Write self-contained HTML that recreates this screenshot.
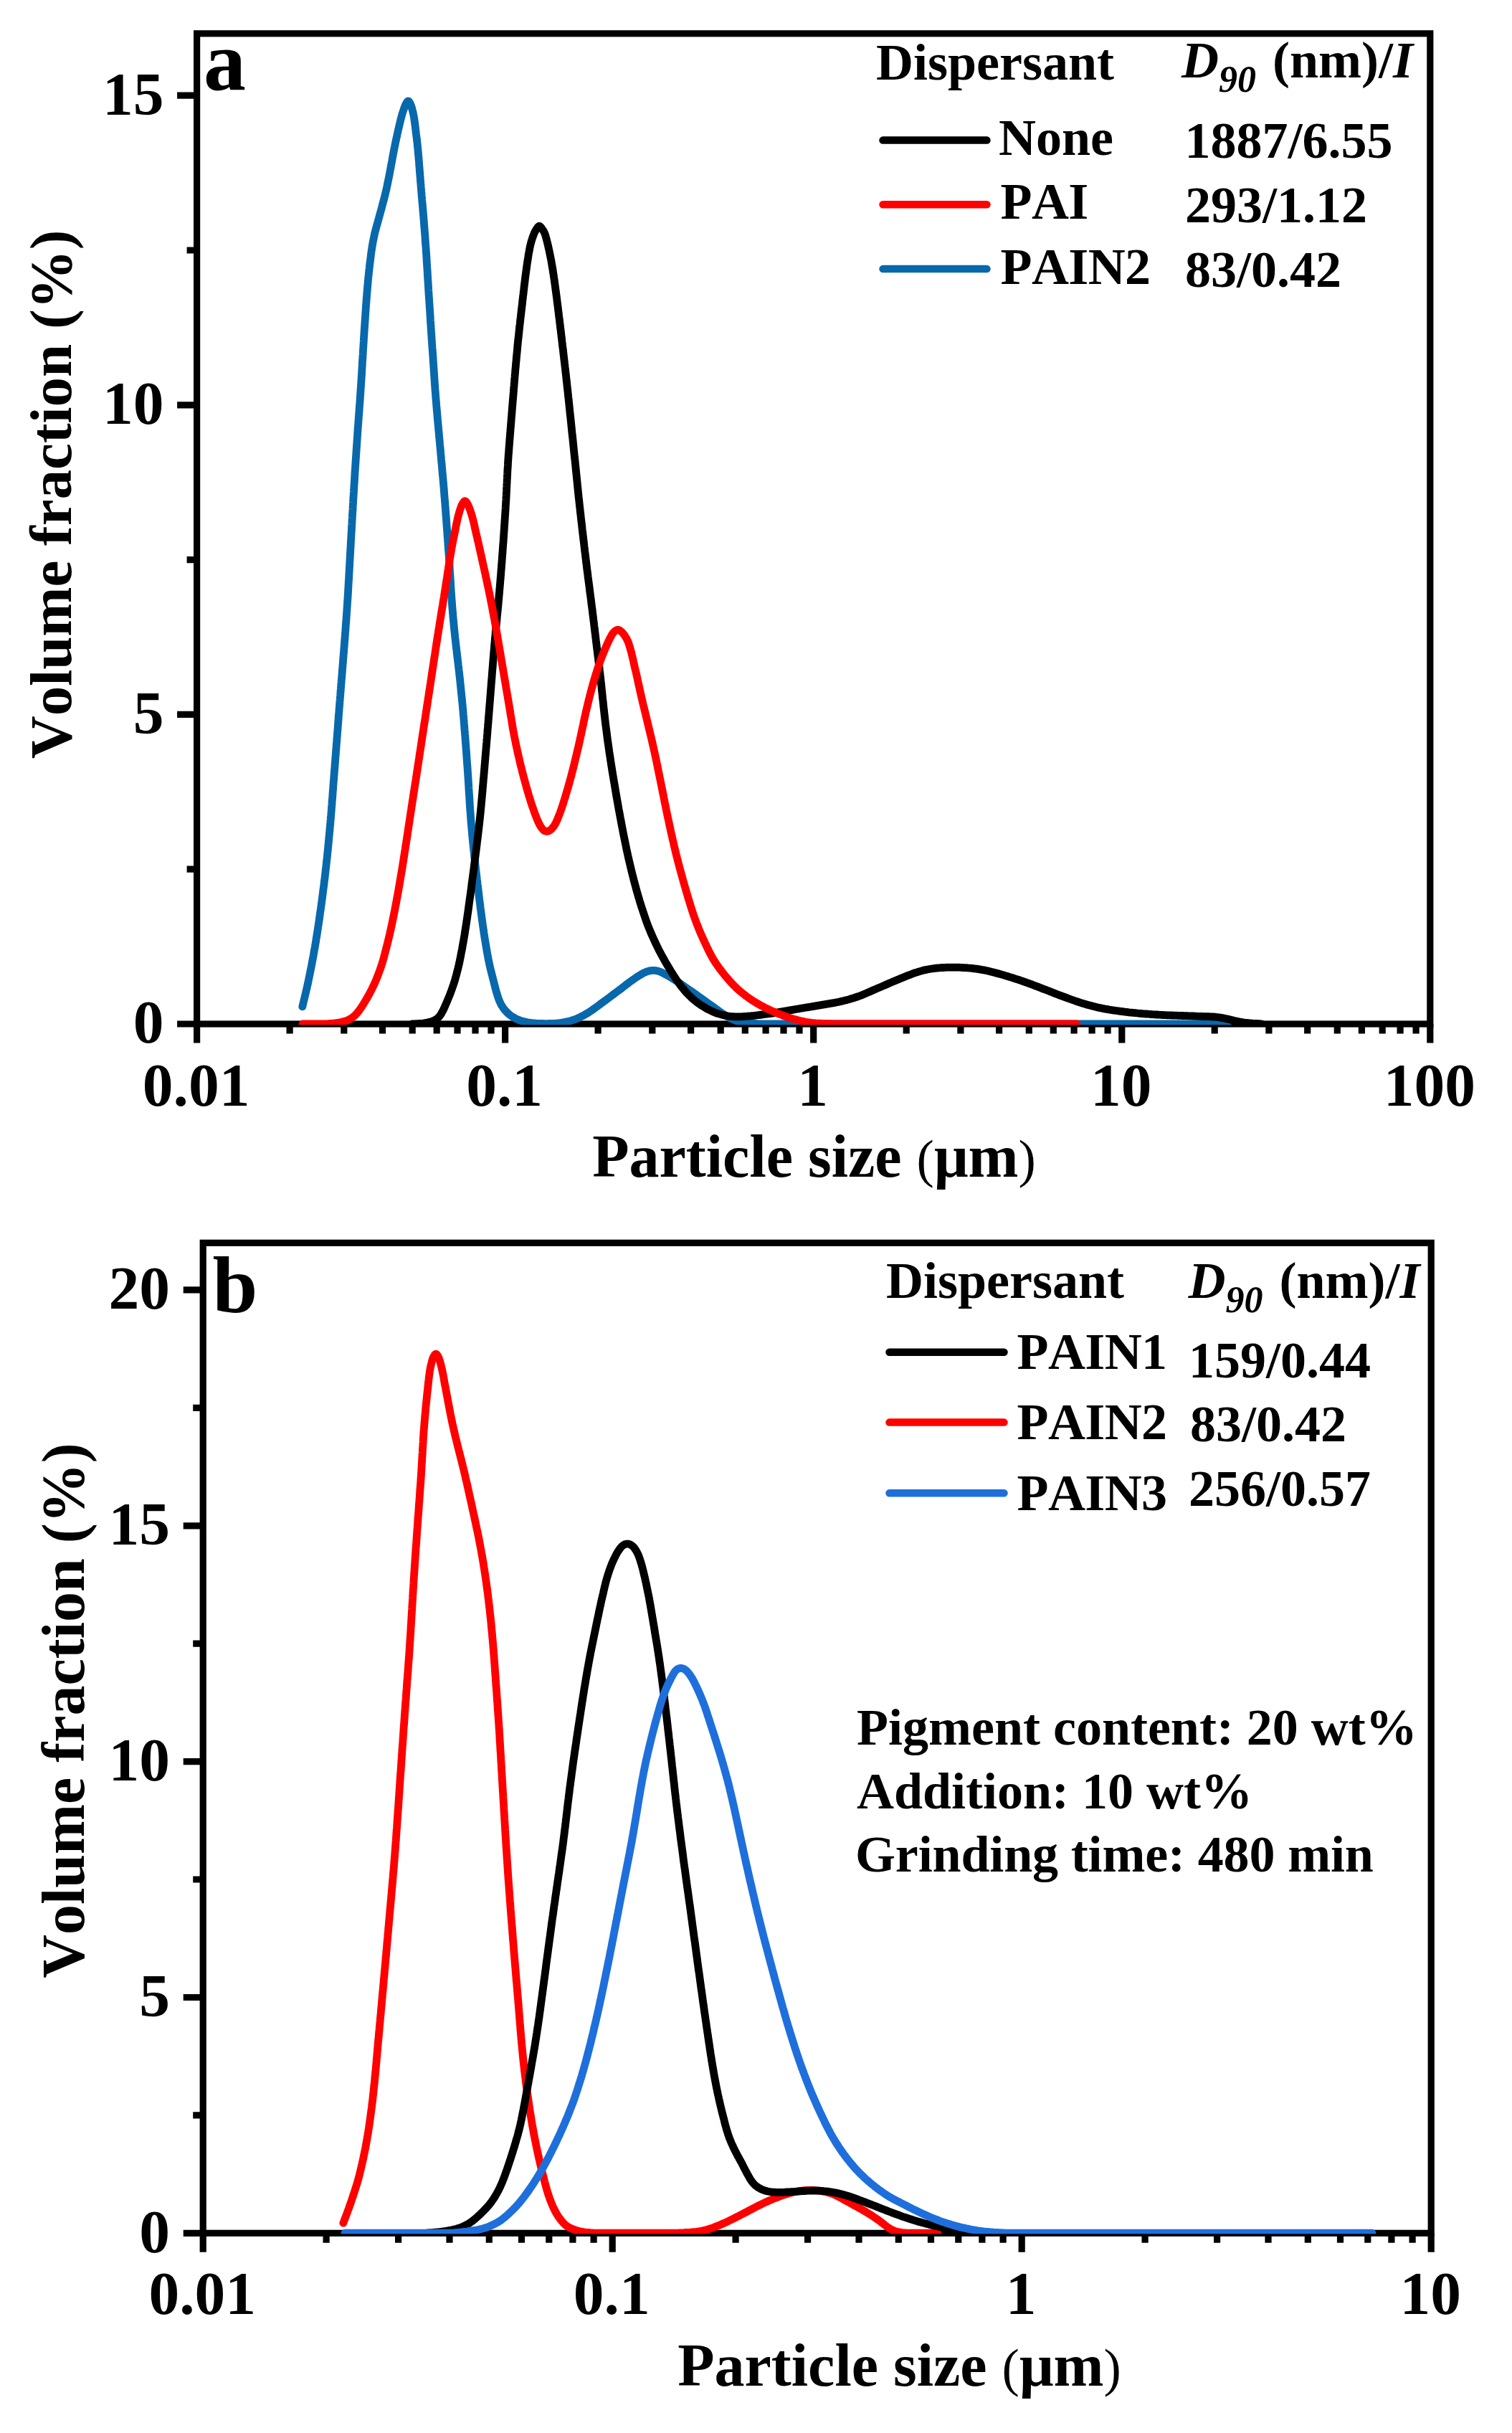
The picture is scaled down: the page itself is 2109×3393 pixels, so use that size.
<!DOCTYPE html>
<html><head><meta charset="utf-8"><title>Particle size distribution</title>
<style>html,body{margin:0;padding:0;background:#fff}svg{display:block}text{font-family:'Liberation Serif',serif;font-weight:bold;fill:#000;font-kerning:none;font-variant-ligatures:none}</style></head><body>
<svg width="2109" height="3393" viewBox="0 0 2109 3393">
<rect width="2109" height="3393" fill="#fff"/>
<g stroke="#000" stroke-width="9.2" fill="none" stroke-linecap="butt">
<rect x="274.6" y="46.8" width="1720.2" height="1381.2"/>
<path d="M274.6,1428.0 V1454.5 M404.1,1428.0 V1441.5 M479.8,1428.0 V1441.5 M533.5,1428.0 V1441.5 M575.2,1428.0 V1441.5 M609.2,1428.0 V1441.5 M638.0,1428.0 V1441.5 M663.0,1428.0 V1441.5 M685.0,1428.0 V1441.5 M704.6,1428.0 V1454.5 M834.1,1428.0 V1441.5 M909.8,1428.0 V1441.5 M963.6,1428.0 V1441.5 M1005.2,1428.0 V1441.5 M1039.3,1428.0 V1441.5 M1068.1,1428.0 V1441.5 M1093.0,1428.0 V1441.5 M1115.0,1428.0 V1441.5 M1134.7,1428.0 V1454.5 M1264.2,1428.0 V1441.5 M1339.9,1428.0 V1441.5 M1393.6,1428.0 V1441.5 M1435.3,1428.0 V1441.5 M1469.3,1428.0 V1441.5 M1498.1,1428.0 V1441.5 M1523.1,1428.0 V1441.5 M1545.1,1428.0 V1441.5 M1564.8,1428.0 V1454.5 M1694.2,1428.0 V1441.5 M1769.9,1428.0 V1441.5 M1823.7,1428.0 V1441.5 M1865.3,1428.0 V1441.5 M1899.4,1428.0 V1441.5 M1928.2,1428.0 V1441.5 M1953.1,1428.0 V1441.5 M1975.1,1428.0 V1441.5 M1994.8,1428.0 V1454.5 M274.6,1428.0 H247.10000000000002 M274.6,1212.2 H260.6 M274.6,996.4 H247.10000000000002 M274.6,780.6 H260.6 M274.6,564.8 H247.10000000000002 M274.6,349.0 H260.6 M274.6,133.2 H247.10000000000002"/>
</g>
<g stroke="#000" stroke-width="9.2" fill="none" stroke-linecap="butt">
<rect x="283.2" y="1733.3" width="1713.0" height="1381.0"/>
<path d="M283.2,3114.3 V3140.8 M455.1,3114.3 V3127.8 M555.6,3114.3 V3127.8 M627.0,3114.3 V3127.8 M682.3,3114.3 V3127.8 M727.5,3114.3 V3127.8 M765.8,3114.3 V3127.8 M798.9,3114.3 V3127.8 M828.1,3114.3 V3127.8 M854.2,3114.3 V3140.8 M1026.1,3114.3 V3127.8 M1126.6,3114.3 V3127.8 M1198.0,3114.3 V3127.8 M1253.3,3114.3 V3127.8 M1298.5,3114.3 V3127.8 M1336.8,3114.3 V3127.8 M1369.9,3114.3 V3127.8 M1399.1,3114.3 V3127.8 M1425.2,3114.3 V3140.8 M1597.1,3114.3 V3127.8 M1697.6,3114.3 V3127.8 M1769.0,3114.3 V3127.8 M1824.3,3114.3 V3127.8 M1869.5,3114.3 V3127.8 M1907.8,3114.3 V3127.8 M1940.9,3114.3 V3127.8 M1970.1,3114.3 V3127.8 M1996.2,3114.3 V3140.8 M283.2,3114.3 H255.7 M283.2,2949.9 H269.2 M283.2,2785.5 H255.7 M283.2,2621.0 H269.2 M283.2,2456.6 H255.7 M283.2,2292.2 H269.2 M283.2,2127.8 H255.7 M283.2,1963.3 H269.2 M283.2,1798.9 H255.7"/>
</g>
<defs><clipPath id="clipa"><rect x="0" y="0" width="2109" height="1429.3"/></clipPath><clipPath id="clipb"><rect x="0" y="1700" width="2109" height="1415.3000000000002"/></clipPath></defs>
<path d="M421.8,1403.9 L422.5,1401.0 L423.2,1398.1 L423.9,1395.2 L424.6,1392.2 L425.3,1389.3 L426.0,1386.4 L426.7,1383.5 L427.4,1380.6 L428.1,1377.6 L428.7,1374.7 L429.4,1371.8 L430.0,1368.9 L430.6,1365.9 L431.2,1363.0 L431.8,1360.1 L432.4,1357.1 L433.0,1354.2 L433.6,1351.2 L434.2,1348.3 L434.8,1345.3 L435.3,1342.4 L435.9,1339.4 L436.4,1336.5 L437.0,1333.5 L437.5,1330.6 L438.0,1327.6 L438.5,1324.7 L439.1,1321.7 L439.6,1318.8 L440.1,1315.8 L440.6,1312.9 L441.0,1309.9 L441.5,1306.9 L442.0,1304.0 L442.5,1301.0 L442.9,1298.1 L443.4,1295.1 L443.8,1292.1 L444.3,1289.2 L444.7,1286.2 L445.2,1283.2 L445.6,1280.3 L446.0,1277.3 L446.4,1274.3 L446.8,1271.3 L447.3,1268.4 L447.7,1265.4 L448.1,1262.4 L448.5,1259.5 L448.9,1256.5 L449.3,1253.5 L449.7,1250.5 L450.1,1247.6 L450.4,1244.6 L450.8,1241.6 L451.2,1238.6 L451.6,1235.7 L452.0,1232.7 L452.3,1229.7 L452.7,1226.7 L453.1,1223.7 L453.4,1220.8 L453.8,1217.8 L454.1,1214.8 L454.4,1211.8 L454.8,1208.8 L455.1,1205.9 L455.4,1202.9 L455.7,1199.9 L456.1,1196.9 L456.4,1193.9 L456.7,1191.0 L457.0,1188.0 L457.3,1185.0 L457.6,1182.0 L457.9,1179.0 L458.2,1176.0 L458.5,1173.0 L458.7,1170.1 L459.0,1167.1 L459.3,1164.1 L459.6,1161.1 L459.9,1158.1 L460.1,1155.1 L460.4,1152.1 L460.7,1149.1 L460.9,1146.2 L461.2,1143.2 L461.4,1140.2 L461.7,1137.2 L461.9,1134.2 L462.2,1131.2 L462.4,1128.2 L462.6,1125.2 L462.9,1122.2 L463.1,1119.2 L463.3,1116.3 L463.6,1113.3 L463.8,1110.3 L464.0,1107.3 L464.2,1104.3 L464.5,1101.3 L464.7,1098.3 L464.9,1095.3 L465.1,1092.3 L465.4,1089.3 L465.6,1086.3 L465.8,1083.3 L466.1,1080.4 L466.3,1077.4 L466.5,1074.4 L466.8,1071.4 L467.0,1068.4 L467.2,1065.4 L467.5,1062.4 L467.7,1059.4 L467.9,1056.4 L468.2,1053.4 L468.4,1050.4 L468.6,1047.5 L468.9,1044.5 L469.1,1041.5 L469.3,1038.5 L469.6,1035.5 L469.8,1032.5 L470.0,1029.5 L470.3,1026.5 L470.5,1023.5 L470.7,1020.5 L471.0,1017.5 L471.2,1014.6 L471.4,1011.6 L471.6,1008.6 L471.9,1005.6 L472.1,1002.6 L472.3,999.6 L472.5,996.6 L472.8,993.6 L473.0,990.6 L473.2,987.6 L473.5,984.6 L473.7,981.7 L473.9,978.7 L474.2,975.7 L474.4,972.7 L474.7,969.7 L474.9,966.7 L475.1,963.7 L475.4,960.7 L475.6,957.7 L475.8,954.7 L476.1,951.7 L476.3,948.8 L476.6,945.8 L476.8,942.8 L477.1,939.8 L477.3,936.8 L477.5,933.8 L477.8,930.8 L478.0,927.8 L478.3,924.8 L478.5,921.8 L478.7,918.9 L479.0,915.9 L479.2,912.9 L479.5,909.9 L479.7,906.9 L479.9,903.9 L480.2,900.9 L480.4,897.9 L480.6,894.9 L480.9,891.9 L481.1,888.9 L481.3,886.0 L481.5,883.0 L481.8,880.0 L482.0,877.0 L482.2,874.0 L482.4,871.0 L482.7,868.0 L482.9,865.0 L483.1,862.0 L483.3,859.0 L483.5,856.0 L483.7,853.0 L483.9,850.1 L484.1,847.1 L484.3,844.1 L484.5,841.1 L484.7,838.1 L484.9,835.1 L485.1,832.1 L485.3,829.1 L485.5,826.1 L485.6,823.1 L485.8,820.1 L486.0,817.1 L486.1,814.1 L486.3,811.1 L486.5,808.1 L486.7,805.1 L486.8,802.1 L487.0,799.1 L487.2,796.1 L487.3,793.2 L487.5,790.2 L487.7,787.2 L487.8,784.2 L488.0,781.2 L488.2,778.2 L488.3,775.2 L488.5,772.2 L488.7,769.2 L488.8,766.2 L489.0,763.2 L489.2,760.2 L489.3,757.2 L489.5,754.2 L489.7,751.2 L489.8,748.2 L490.0,745.2 L490.2,742.2 L490.4,739.2 L490.5,736.2 L490.7,733.2 L490.9,730.3 L491.0,727.3 L491.2,724.3 L491.4,721.3 L491.5,718.3 L491.7,715.3 L491.9,712.3 L492.1,709.3 L492.2,706.3 L492.4,703.3 L492.6,700.3 L492.7,697.3 L492.9,694.3 L493.1,691.3 L493.3,688.3 L493.5,685.3 L493.6,682.3 L493.8,679.3 L494.0,676.3 L494.2,673.4 L494.4,670.4 L494.6,667.4 L494.7,664.4 L494.9,661.4 L495.1,658.4 L495.3,655.4 L495.5,652.4 L495.7,649.4 L495.9,646.4 L496.1,643.4 L496.3,640.4 L496.5,637.4 L496.7,634.4 L496.9,631.4 L497.1,628.4 L497.3,625.4 L497.5,622.5 L497.7,619.5 L497.9,616.5 L498.1,613.5 L498.3,610.5 L498.5,607.5 L498.7,604.5 L498.9,601.5 L499.1,598.5 L499.3,595.5 L499.6,592.5 L499.8,589.5 L500.0,586.5 L500.2,583.6 L500.4,580.6 L500.7,577.6 L500.9,574.6 L501.1,571.6 L501.3,568.6 L501.5,565.6 L501.8,562.6 L502.0,559.6 L502.2,556.6 L502.4,553.6 L502.6,550.6 L502.8,547.7 L503.0,544.7 L503.2,541.7 L503.4,538.7 L503.6,535.7 L503.8,532.7 L504.0,529.7 L504.2,526.7 L504.4,523.7 L504.6,520.7 L504.7,517.7 L504.9,514.7 L505.1,511.7 L505.3,508.7 L505.4,505.7 L505.6,502.7 L505.8,499.7 L506.0,496.8 L506.2,493.8 L506.3,490.8 L506.5,487.8 L506.7,484.8 L506.9,481.8 L507.1,478.8 L507.3,475.8 L507.4,472.8 L507.6,469.8 L507.8,466.8 L508.0,463.8 L508.2,460.8 L508.4,457.8 L508.6,454.8 L508.8,451.8 L509.0,448.8 L509.2,445.8 L509.4,442.9 L509.6,439.9 L509.8,436.9 L510.0,433.9 L510.2,430.9 L510.4,427.9 L510.6,424.9 L510.9,421.9 L511.1,418.9 L511.3,415.9 L511.6,412.9 L511.8,409.9 L512.0,407.0 L512.3,404.0 L512.5,401.0 L512.8,398.0 L513.1,395.0 L513.3,392.0 L513.6,389.0 L513.9,386.0 L514.2,383.1 L514.5,380.1 L514.8,377.1 L515.2,374.1 L515.5,371.1 L515.8,368.2 L516.2,365.2 L516.6,362.2 L517.0,359.2 L517.3,356.3 L517.7,353.3 L518.1,350.3 L518.6,347.4 L519.0,344.4 L519.5,341.4 L520.0,338.5 L520.6,335.5 L521.2,332.6 L521.8,329.7 L522.4,326.7 L523.1,323.8 L523.9,320.9 L524.6,318.0 L525.4,315.1 L526.2,312.2 L527.0,309.4 L527.8,306.5 L528.6,303.6 L529.4,300.7 L530.2,297.8 L531.0,294.9 L531.8,292.0 L532.6,289.1 L533.3,286.2 L534.1,283.3 L534.9,280.4 L535.7,277.5 L536.4,274.6 L537.1,271.7 L537.8,268.8 L538.5,265.9 L539.2,263.0 L539.8,260.0 L540.4,257.1 L541.0,254.2 L541.6,251.2 L542.2,248.3 L542.8,245.3 L543.4,242.4 L543.9,239.4 L544.5,236.5 L545.0,233.6 L545.6,230.6 L546.1,227.7 L546.7,224.7 L547.2,221.8 L547.7,218.8 L548.3,215.9 L548.9,212.9 L549.4,210.0 L550.0,207.0 L550.6,204.1 L551.2,201.1 L551.8,198.2 L552.4,195.3 L553.0,192.4 L553.7,189.4 L554.3,186.5 L555.0,183.6 L555.6,180.7 L556.3,177.7 L557.0,174.8 L557.7,171.9 L558.4,169.0 L559.1,166.0 L559.9,163.1 L560.1,162.2 L560.4,161.2 L560.7,160.3 L560.9,159.3 L561.2,158.3 L561.5,157.4 L561.8,156.4 L562.1,155.5 L562.5,154.5 L562.8,153.6 L563.1,152.6 L563.4,151.7 L563.8,150.8 L564.1,149.8 L564.4,148.9 L564.8,147.9 L565.2,147.0 L565.6,146.1 L566.0,145.2 L566.5,144.4 L567.0,143.5 L567.5,142.7 L567.9,142.0 L568.4,141.4 L568.9,141.0 L569.4,140.9 L569.9,141.1 L570.4,141.5 L570.9,142.1 L571.4,142.9 L571.8,143.7 L572.3,144.6 L572.7,145.5 L573.1,146.4 L573.4,147.3 L573.8,148.2 L574.1,149.2 L574.3,150.1 L574.6,151.1 L574.9,152.1 L575.1,153.0 L575.4,154.0 L575.6,155.0 L575.9,155.9 L576.1,156.9 L576.3,157.9 L576.5,158.9 L576.7,159.8 L576.9,160.8 L577.1,161.8 L577.3,162.8 L577.4,163.8 L577.8,165.8 L578.2,168.7 L578.6,171.7 L579.0,174.7 L579.4,177.7 L579.7,180.7 L580.1,183.7 L580.4,186.6 L580.8,189.6 L581.2,192.6 L581.5,195.5 L581.9,198.5 L582.2,201.5 L582.5,204.4 L582.8,207.4 L583.1,210.4 L583.3,213.4 L583.6,216.4 L583.9,219.4 L584.1,222.4 L584.4,225.4 L584.6,228.3 L584.8,231.3 L585.1,234.3 L585.3,237.3 L585.5,240.3 L585.8,243.3 L586.0,246.3 L586.3,249.3 L586.5,252.3 L586.7,255.3 L587.0,258.2 L587.2,261.2 L587.5,264.2 L587.7,267.2 L588.0,270.2 L588.2,273.2 L588.5,276.2 L588.7,279.2 L589.0,282.2 L589.3,285.1 L589.5,288.1 L589.8,291.1 L590.0,294.1 L590.3,297.1 L590.5,300.1 L590.8,303.1 L591.0,306.1 L591.3,309.1 L591.5,312.1 L591.7,315.0 L592.0,318.0 L592.2,321.0 L592.4,324.0 L592.7,327.0 L592.9,330.0 L593.1,333.0 L593.3,336.0 L593.5,339.0 L593.7,342.0 L594.0,345.0 L594.2,348.0 L594.4,350.9 L594.6,353.9 L594.8,356.9 L595.0,359.9 L595.1,362.9 L595.3,365.9 L595.5,368.9 L595.7,371.9 L595.9,374.9 L596.1,377.9 L596.3,380.9 L596.4,383.9 L596.6,386.9 L596.8,389.9 L597.0,392.9 L597.2,395.9 L597.4,398.9 L597.6,401.8 L597.7,404.8 L597.9,407.8 L598.1,410.8 L598.3,413.8 L598.5,416.8 L598.7,419.8 L598.9,422.8 L599.1,425.8 L599.3,428.8 L599.5,431.8 L599.7,434.8 L599.9,437.8 L600.1,440.8 L600.3,443.8 L600.4,446.8 L600.6,449.7 L600.8,452.7 L601.0,455.7 L601.2,458.7 L601.4,461.7 L601.6,464.7 L601.8,467.7 L602.0,470.7 L602.2,473.7 L602.4,476.7 L602.6,479.7 L602.8,482.7 L603.0,485.7 L603.3,488.7 L603.5,491.7 L603.7,494.6 L603.9,497.6 L604.1,500.6 L604.3,503.6 L604.5,506.6 L604.7,509.6 L604.9,512.6 L605.1,515.6 L605.3,518.6 L605.5,521.6 L605.7,524.6 L605.9,527.6 L606.1,530.6 L606.3,533.6 L606.5,536.5 L606.7,539.5 L606.9,542.5 L607.1,545.5 L607.4,548.5 L607.6,551.5 L607.8,554.5 L608.1,557.5 L608.3,560.5 L608.6,563.5 L608.8,566.5 L609.1,569.4 L609.3,572.4 L609.6,575.4 L609.9,578.4 L610.1,581.4 L610.4,584.4 L610.6,587.4 L610.9,590.4 L611.2,593.3 L611.5,596.3 L611.7,599.3 L612.0,602.3 L612.3,605.3 L612.5,608.3 L612.8,611.3 L613.1,614.3 L613.4,617.3 L613.6,620.2 L613.9,623.2 L614.2,626.2 L614.5,629.2 L614.7,632.2 L615.0,635.2 L615.3,638.2 L615.5,641.2 L615.8,644.1 L616.1,647.1 L616.4,650.1 L616.6,653.1 L616.9,656.1 L617.1,659.1 L617.4,662.1 L617.7,665.1 L617.9,668.0 L618.2,671.0 L618.5,674.0 L618.7,677.0 L619.0,680.0 L619.2,683.0 L619.5,686.0 L619.7,689.0 L619.9,692.0 L620.2,695.0 L620.4,697.9 L620.7,700.9 L620.9,703.9 L621.1,706.9 L621.4,709.9 L621.6,712.9 L621.8,715.9 L622.0,718.9 L622.3,721.9 L622.5,724.9 L622.7,727.9 L622.9,730.8 L623.1,733.8 L623.4,736.8 L623.6,739.8 L623.8,742.8 L624.0,745.8 L624.2,748.8 L624.5,751.8 L624.7,754.8 L624.9,757.8 L625.1,760.8 L625.3,763.8 L625.5,766.8 L625.7,769.7 L626.0,772.7 L626.2,775.7 L626.4,778.7 L626.6,781.7 L626.8,784.7 L627.0,787.7 L627.1,790.7 L627.3,793.7 L627.5,796.7 L627.7,799.7 L627.9,802.7 L628.1,805.7 L628.3,808.7 L628.5,811.7 L628.6,814.6 L628.8,817.6 L629.0,820.6 L629.2,823.6 L629.4,826.6 L629.6,829.6 L629.8,832.6 L630.0,835.6 L630.2,838.6 L630.5,841.6 L630.7,844.6 L630.9,847.6 L631.2,850.6 L631.4,853.5 L631.7,856.5 L631.9,859.5 L632.2,862.5 L632.5,865.5 L632.8,868.5 L633.0,871.5 L633.3,874.5 L633.6,877.4 L633.9,880.4 L634.2,883.4 L634.5,886.4 L634.8,889.4 L635.2,892.4 L635.5,895.3 L635.8,898.3 L636.2,901.3 L636.5,904.3 L636.9,907.3 L637.2,910.2 L637.6,913.2 L637.9,916.2 L638.3,919.2 L638.6,922.2 L639.0,925.1 L639.3,928.1 L639.7,931.1 L640.0,934.1 L640.4,937.1 L640.7,940.0 L641.0,943.0 L641.4,946.0 L641.7,949.0 L642.0,952.0 L642.3,954.9 L642.6,957.9 L642.9,960.9 L643.2,963.9 L643.5,966.9 L643.8,969.9 L644.1,972.9 L644.4,975.8 L644.7,978.8 L645.0,981.8 L645.3,984.8 L645.5,987.8 L645.8,990.8 L646.1,993.8 L646.3,996.7 L646.6,999.7 L646.8,1002.7 L647.1,1005.7 L647.3,1008.7 L647.6,1011.7 L647.8,1014.7 L648.0,1017.7 L648.3,1020.7 L648.5,1023.7 L648.8,1026.6 L649.0,1029.6 L649.2,1032.6 L649.4,1035.6 L649.7,1038.6 L649.9,1041.6 L650.1,1044.6 L650.3,1047.6 L650.6,1050.6 L650.8,1053.6 L651.0,1056.6 L651.2,1059.6 L651.4,1062.5 L651.6,1065.5 L651.9,1068.5 L652.1,1071.5 L652.3,1074.5 L652.5,1077.5 L652.7,1080.5 L652.9,1083.5 L653.1,1086.5 L653.3,1089.5 L653.5,1092.5 L653.7,1095.5 L653.8,1098.5 L654.0,1101.5 L654.2,1104.5 L654.4,1107.4 L654.6,1110.4 L654.8,1113.4 L655.0,1116.4 L655.1,1119.4 L655.3,1122.4 L655.5,1125.4 L655.7,1128.4 L655.9,1131.4 L656.2,1134.4 L656.4,1137.4 L656.6,1140.4 L656.8,1143.4 L657.1,1146.4 L657.3,1149.3 L657.6,1152.3 L657.8,1155.3 L658.1,1158.3 L658.4,1161.3 L658.6,1164.3 L658.9,1167.3 L659.2,1170.3 L659.5,1173.2 L659.8,1176.2 L660.1,1179.2 L660.4,1182.2 L660.7,1185.2 L661.1,1188.2 L661.4,1191.1 L661.7,1194.1 L662.0,1197.1 L662.4,1200.1 L662.7,1203.1 L663.0,1206.0 L663.4,1209.0 L663.7,1212.0 L664.0,1215.0 L664.4,1218.0 L664.7,1221.0 L665.1,1223.9 L665.4,1226.9 L665.8,1229.9 L666.1,1232.9 L666.5,1235.8 L666.8,1238.8 L667.2,1241.8 L667.6,1244.8 L667.9,1247.8 L668.3,1250.7 L668.6,1253.7 L669.0,1256.7 L669.4,1259.7 L669.8,1262.6 L670.1,1265.6 L670.5,1268.6 L670.9,1271.6 L671.3,1274.5 L671.7,1277.5 L672.1,1280.5 L672.5,1283.5 L672.9,1286.4 L673.3,1289.4 L673.7,1292.4 L674.2,1295.3 L674.6,1298.3 L675.0,1301.3 L675.5,1304.2 L675.9,1307.2 L676.4,1310.2 L676.9,1313.1 L677.4,1316.1 L677.9,1319.1 L678.4,1322.0 L678.9,1325.0 L679.4,1327.9 L679.9,1330.9 L680.5,1333.8 L681.0,1336.8 L681.6,1339.7 L682.2,1342.6 L682.8,1345.6 L683.5,1348.5 L684.2,1351.4 L684.9,1354.3 L685.6,1357.2 L686.4,1360.1 L687.1,1363.0 L687.9,1365.9 L688.6,1368.8 L689.3,1371.7 L690.1,1374.6 L690.8,1377.5 L691.6,1380.4 L692.4,1383.3 L693.3,1386.2 L694.2,1389.1 L695.1,1391.9 L696.1,1394.7 L697.3,1397.4 L698.5,1400.1 L700.0,1402.7 L701.6,1405.2 L703.4,1407.6 L705.3,1409.8 L707.4,1412.0 L709.5,1414.0 L711.8,1415.9 L714.3,1417.6 L716.8,1419.1 L719.4,1420.5 L722.1,1421.8 L724.9,1422.9 L727.7,1423.8 L730.6,1424.6 L733.5,1425.3 L736.4,1425.9 L739.3,1426.3 L742.3,1426.7 L745.3,1427.0 L748.3,1427.2 L751.2,1427.3 L754.2,1427.5 L757.2,1427.5 L760.2,1427.6 L763.2,1427.6 L766.2,1427.5 L769.2,1427.4 L772.2,1427.3 L775.2,1427.1 L778.1,1426.9 L781.1,1426.5 L784.1,1426.1 L787.0,1425.6 L789.9,1425.0 L792.8,1424.4 L795.7,1423.6 L798.6,1422.7 L801.4,1421.8 L804.2,1420.7 L806.9,1419.5 L809.6,1418.2 L812.3,1416.9 L814.9,1415.5 L817.5,1414.0 L820.1,1412.5 L822.6,1410.9 L825.1,1409.2 L827.5,1407.5 L830.0,1405.8 L832.4,1404.0 L834.8,1402.2 L837.2,1400.4 L839.6,1398.6 L842.0,1396.9 L844.5,1395.1 L846.9,1393.3 L849.3,1391.5 L851.7,1389.7 L854.1,1387.9 L856.5,1386.1 L858.9,1384.3 L861.3,1382.5 L863.6,1380.7 L866.1,1379.0 L868.4,1377.1 L870.8,1375.3 L873.2,1373.4 L875.6,1371.6 L878.0,1369.8 L880.4,1368.0 L882.8,1366.3 L885.3,1364.6 L887.8,1362.9 L890.3,1361.3 L892.8,1359.7 L895.4,1358.2 L898.0,1356.8 L898.9,1356.4 L899.8,1356.0 L900.7,1355.6 L901.6,1355.2 L902.5,1354.9 L903.5,1354.6 L904.4,1354.3 L905.4,1354.0 L906.3,1353.8 L907.3,1353.7 L908.2,1353.5 L909.2,1353.4 L910.2,1353.3 L911.2,1353.3 L912.1,1353.3 L913.1,1353.4 L914.1,1353.5 L915.0,1353.6 L916.0,1353.8 L916.9,1354.0 L917.9,1354.2 L918.8,1354.5 L919.7,1354.8 L920.7,1355.2 L921.6,1355.5 L922.5,1355.9 L923.4,1356.3 L926.0,1357.7 L928.7,1359.1 L931.3,1360.5 L933.9,1362.0 L936.5,1363.6 L939.0,1365.2 L941.5,1366.8 L944.0,1368.4 L946.5,1370.1 L949.0,1371.8 L951.5,1373.5 L953.9,1375.2 L956.4,1376.9 L958.9,1378.6 L961.3,1380.3 L963.8,1382.0 L966.2,1383.7 L968.7,1385.5 L971.1,1387.2 L973.6,1388.9 L976.0,1390.7 L978.4,1392.4 L980.9,1394.2 L983.3,1395.9 L985.7,1397.7 L988.2,1399.4 L990.6,1401.1 L993.1,1402.8 L995.6,1404.6 L997.9,1406.4 L1000.4,1408.2 L1002.8,1409.9 L1005.2,1411.7 L1007.7,1413.4 L1010.2,1415.0 L1012.7,1416.6 L1015.3,1418.1 L1017.9,1419.6 L1020.6,1420.9 L1023.3,1422.2 L1026.0,1423.3 L1028.9,1424.2 L1031.7,1425.0 L1034.6,1425.7 L1037.5,1426.2 L1040.5,1426.5 L1043.4,1426.8 L1046.4,1427.0 L1049.3,1427.2 L1052.2,1427.4 L1055.1,1427.5 L1058.1,1427.8 L1060.0,1428.0 L1060.0,1428.0 L1712.0,1428.0" fill="none" stroke="#0868ac" stroke-width="10.8" stroke-linecap="round" stroke-linejoin="round" clip-path="url(#clipa)"/>
<path d="M575.0,1428.0 L578.0,1427.8 L581.0,1427.6 L584.0,1427.5 L587.0,1427.3 L589.9,1427.0 L592.9,1426.6 L595.8,1426.1 L596.8,1425.9 L597.8,1425.7 L598.7,1425.4 L599.7,1425.2 L600.6,1424.9 L601.6,1424.6 L602.5,1424.3 L603.4,1423.9 L604.4,1423.6 L605.3,1423.2 L606.1,1422.8 L607.0,1422.3 L607.8,1421.9 L608.6,1421.3 L609.4,1420.8 L610.2,1420.2 L610.9,1419.6 L611.5,1418.9 L612.2,1418.2 L612.8,1417.5 L613.4,1416.7 L614.0,1415.9 L614.6,1415.1 L615.1,1414.3 L615.6,1413.4 L616.1,1412.6 L616.6,1411.7 L618.0,1409.1 L619.3,1406.4 L620.5,1403.7 L621.7,1400.9 L622.9,1398.2 L624.1,1395.4 L625.2,1392.6 L626.4,1389.9 L627.5,1387.1 L628.6,1384.3 L629.6,1381.5 L630.6,1378.7 L631.6,1375.8 L632.6,1373.0 L633.5,1370.2 L634.4,1367.3 L635.2,1364.4 L636.0,1361.5 L636.8,1358.6 L637.5,1355.7 L638.3,1352.8 L639.0,1349.9 L639.7,1347.0 L640.4,1344.1 L641.0,1341.2 L641.6,1338.2 L642.2,1335.3 L642.8,1332.3 L643.3,1329.4 L643.9,1326.5 L644.5,1323.5 L645.0,1320.6 L645.5,1317.6 L646.1,1314.7 L646.6,1311.7 L647.1,1308.7 L647.6,1305.8 L648.1,1302.8 L648.5,1299.9 L649.0,1296.9 L649.5,1293.9 L649.9,1291.0 L650.4,1288.0 L650.8,1285.0 L651.3,1282.1 L651.7,1279.1 L652.1,1276.1 L652.6,1273.2 L653.0,1270.2 L653.4,1267.2 L653.8,1264.3 L654.2,1261.3 L654.6,1258.3 L655.0,1255.3 L655.4,1252.4 L655.9,1249.4 L656.3,1246.4 L656.7,1243.5 L657.1,1240.5 L657.5,1237.5 L657.8,1234.5 L658.2,1231.6 L658.6,1228.6 L659.0,1225.6 L659.4,1222.6 L659.8,1219.7 L660.2,1216.7 L660.6,1213.7 L661.0,1210.7 L661.3,1207.8 L661.7,1204.8 L662.1,1201.8 L662.5,1198.8 L662.8,1195.9 L663.2,1192.9 L663.6,1189.9 L664.0,1186.9 L664.3,1183.9 L664.7,1181.0 L665.1,1178.0 L665.4,1175.0 L665.8,1172.0 L666.2,1169.1 L666.5,1166.1 L666.9,1163.1 L667.2,1160.1 L667.6,1157.1 L667.9,1154.2 L668.3,1151.2 L668.6,1148.2 L668.9,1145.2 L669.3,1142.2 L669.6,1139.3 L669.9,1136.3 L670.2,1133.3 L670.5,1130.3 L670.8,1127.3 L671.1,1124.3 L671.3,1121.3 L671.6,1118.4 L671.9,1115.4 L672.2,1112.4 L672.4,1109.4 L672.7,1106.4 L673.0,1103.4 L673.2,1100.4 L673.5,1097.4 L673.7,1094.5 L674.0,1091.5 L674.2,1088.5 L674.5,1085.5 L674.8,1082.5 L675.0,1079.5 L675.3,1076.5 L675.5,1073.5 L675.8,1070.5 L676.0,1067.6 L676.3,1064.6 L676.5,1061.6 L676.8,1058.6 L677.0,1055.6 L677.3,1052.6 L677.5,1049.6 L677.8,1046.6 L678.0,1043.6 L678.3,1040.6 L678.5,1037.7 L678.8,1034.7 L679.0,1031.7 L679.3,1028.7 L679.5,1025.7 L679.8,1022.7 L680.0,1019.7 L680.2,1016.7 L680.5,1013.7 L680.7,1010.7 L681.0,1007.8 L681.2,1004.8 L681.4,1001.8 L681.7,998.8 L681.9,995.8 L682.2,992.8 L682.4,989.8 L682.6,986.8 L682.9,983.8 L683.1,980.8 L683.4,977.9 L683.6,974.9 L683.8,971.9 L684.1,968.9 L684.3,965.9 L684.5,962.9 L684.8,959.9 L685.0,956.9 L685.2,953.9 L685.5,950.9 L685.7,947.9 L686.0,945.0 L686.2,942.0 L686.4,939.0 L686.7,936.0 L686.9,933.0 L687.2,930.0 L687.4,927.0 L687.6,924.0 L687.9,921.0 L688.1,918.0 L688.4,915.1 L688.6,912.1 L688.9,909.1 L689.1,906.1 L689.4,903.1 L689.6,900.1 L689.9,897.1 L690.2,894.1 L690.4,891.1 L690.7,888.2 L691.0,885.2 L691.2,882.2 L691.5,879.2 L691.8,876.2 L692.1,873.2 L692.4,870.2 L692.7,867.2 L693.0,864.3 L693.2,861.3 L693.5,858.3 L693.8,855.3 L694.1,852.3 L694.4,849.3 L694.7,846.3 L695.0,843.4 L695.2,840.4 L695.5,837.4 L695.8,834.4 L696.0,831.4 L696.3,828.4 L696.6,825.4 L696.8,822.4 L697.1,819.5 L697.3,816.5 L697.6,813.5 L697.8,810.5 L698.1,807.5 L698.3,804.5 L698.6,801.5 L698.8,798.5 L699.0,795.5 L699.3,792.5 L699.5,789.5 L699.7,786.6 L700.0,783.6 L700.2,780.6 L700.4,777.6 L700.6,774.6 L700.9,771.6 L701.1,768.6 L701.3,765.6 L701.5,762.6 L701.7,759.6 L702.0,756.6 L702.2,753.6 L702.4,750.7 L702.6,747.7 L702.8,744.7 L703.0,741.7 L703.2,738.7 L703.4,735.7 L703.6,732.7 L703.8,729.7 L704.0,726.7 L704.2,723.7 L704.4,720.7 L704.6,717.7 L704.8,714.7 L705.0,711.7 L705.2,708.8 L705.3,705.8 L705.5,702.8 L705.7,699.8 L705.9,696.8 L706.0,693.8 L706.2,690.8 L706.3,687.8 L706.5,684.8 L706.6,681.8 L706.8,678.8 L706.9,675.8 L707.1,672.8 L707.2,669.8 L707.4,666.8 L707.5,663.8 L707.7,660.8 L707.8,657.8 L708.0,654.8 L708.2,651.8 L708.4,648.8 L708.5,645.8 L708.7,642.9 L708.9,639.9 L709.1,636.9 L709.3,633.9 L709.6,630.9 L709.8,627.9 L710.0,624.9 L710.2,621.9 L710.5,618.9 L710.7,615.9 L710.9,612.9 L711.2,609.9 L711.4,607.0 L711.7,604.0 L711.9,601.0 L712.1,598.0 L712.4,595.0 L712.6,592.0 L712.9,589.0 L713.1,586.0 L713.3,583.0 L713.6,580.0 L713.8,577.1 L714.1,574.1 L714.3,571.1 L714.5,568.1 L714.8,565.1 L715.0,562.1 L715.3,559.1 L715.5,556.1 L715.8,553.1 L716.0,550.1 L716.3,547.2 L716.5,544.2 L716.7,541.2 L717.0,538.2 L717.2,535.2 L717.5,532.2 L717.7,529.2 L718.0,526.2 L718.2,523.2 L718.5,520.2 L718.7,517.3 L719.0,514.3 L719.3,511.3 L719.5,508.3 L719.8,505.3 L720.1,502.3 L720.3,499.3 L720.6,496.3 L720.9,493.4 L721.2,490.4 L721.5,487.4 L721.7,484.4 L722.0,481.4 L722.3,478.4 L722.6,475.4 L722.9,472.5 L723.3,469.5 L723.6,466.5 L723.9,463.5 L724.2,460.5 L724.5,457.5 L724.8,454.6 L725.2,451.6 L725.5,448.6 L725.8,445.6 L726.2,442.6 L726.5,439.7 L726.9,436.7 L727.2,433.7 L727.6,430.7 L727.9,427.7 L728.3,424.8 L728.6,421.8 L728.9,418.8 L729.3,415.8 L729.6,412.8 L730.0,409.9 L730.3,406.9 L730.7,403.9 L731.0,400.9 L731.3,397.9 L731.7,395.0 L732.1,392.0 L732.4,389.0 L732.8,386.0 L733.2,383.1 L733.6,380.1 L734.0,377.1 L734.4,374.2 L734.8,371.2 L735.2,368.2 L735.7,365.2 L736.1,362.3 L736.6,359.3 L737.0,356.4 L737.5,353.4 L738.1,350.5 L738.6,347.5 L739.2,344.6 L739.9,341.6 L740.6,338.7 L741.1,336.8 L741.4,335.9 L741.7,334.9 L742.0,334.0 L742.3,333.0 L742.6,332.1 L743.0,331.1 L743.3,330.2 L743.6,329.2 L744.0,328.3 L744.3,327.4 L744.7,326.4 L745.0,325.5 L745.4,324.6 L745.9,323.7 L746.3,322.8 L746.8,322.0 L747.3,321.1 L747.9,320.3 L748.4,319.4 L748.9,318.6 L749.5,317.8 L750.0,317.0 L750.5,316.3 L751.1,315.8 L751.6,315.4 L752.2,315.3 L752.8,315.4 L753.3,315.8 L753.9,316.4 L754.5,317.0 L755.1,317.8 L755.6,318.6 L756.2,319.4 L756.8,320.2 L757.4,321.0 L757.9,321.9 L758.4,322.7 L758.9,323.6 L759.3,324.4 L759.7,325.4 L760.1,326.3 L760.4,327.2 L760.7,328.2 L761.0,329.1 L761.3,330.1 L761.5,331.0 L761.8,332.0 L762.1,332.9 L762.3,333.9 L762.6,334.9 L762.8,335.8 L763.1,336.8 L763.8,339.7 L764.5,342.6 L765.1,345.6 L765.8,348.5 L766.4,351.4 L767.0,354.4 L767.6,357.3 L768.2,360.3 L768.8,363.2 L769.3,366.1 L769.8,369.1 L770.3,372.0 L770.8,375.0 L771.3,378.0 L771.7,380.9 L772.2,383.9 L772.6,386.9 L773.1,389.8 L773.5,392.8 L773.9,395.8 L774.3,398.7 L774.7,401.7 L775.1,404.7 L775.5,407.6 L775.9,410.6 L776.3,413.6 L776.7,416.6 L777.0,419.5 L777.4,422.5 L777.8,425.5 L778.2,428.5 L778.5,431.5 L778.9,434.4 L779.3,437.4 L779.6,440.4 L780.0,443.4 L780.4,446.3 L780.7,449.3 L781.1,452.3 L781.4,455.3 L781.8,458.3 L782.2,461.2 L782.5,464.2 L782.9,467.2 L783.2,470.2 L783.6,473.1 L783.9,476.1 L784.3,479.1 L784.6,482.1 L785.0,485.1 L785.4,488.0 L785.7,491.0 L786.0,494.0 L786.4,497.0 L786.7,500.0 L787.1,502.9 L787.4,505.9 L787.8,508.9 L788.1,511.9 L788.5,514.9 L788.8,517.8 L789.1,520.8 L789.5,523.8 L789.8,526.8 L790.1,529.8 L790.5,532.8 L790.8,535.7 L791.1,538.7 L791.4,541.7 L791.8,544.7 L792.1,547.7 L792.4,550.6 L792.7,553.6 L793.1,556.6 L793.4,559.6 L793.7,562.6 L794.0,565.6 L794.3,568.5 L794.6,571.5 L794.9,574.5 L795.2,577.5 L795.6,580.5 L795.9,583.5 L796.2,586.4 L796.5,589.4 L796.8,592.4 L797.1,595.4 L797.4,598.4 L797.7,601.4 L798.0,604.4 L798.3,607.3 L798.7,610.3 L799.0,613.3 L799.3,616.3 L799.6,619.3 L799.9,622.3 L800.2,625.2 L800.5,628.2 L800.8,631.2 L801.1,634.2 L801.4,637.2 L801.8,640.2 L802.1,643.1 L802.4,646.1 L802.7,649.1 L803.0,652.1 L803.3,655.1 L803.6,658.1 L803.9,661.1 L804.2,664.0 L804.5,667.0 L804.8,670.0 L805.1,673.0 L805.4,676.0 L805.7,679.0 L806.0,681.9 L806.3,684.9 L806.6,687.9 L806.9,690.9 L807.2,693.9 L807.6,696.9 L807.9,699.8 L808.2,702.8 L808.5,705.8 L808.9,708.8 L809.2,711.8 L809.5,714.8 L809.9,717.7 L810.2,720.7 L810.5,723.7 L810.9,726.7 L811.2,729.7 L811.6,732.6 L811.9,735.6 L812.2,738.6 L812.6,741.6 L812.9,744.6 L813.3,747.5 L813.6,750.5 L814.0,753.5 L814.3,756.5 L814.7,759.5 L815.0,762.4 L815.4,765.4 L815.7,768.4 L816.1,771.4 L816.5,774.4 L816.8,777.3 L817.2,780.3 L817.5,783.3 L817.9,786.3 L818.3,789.2 L818.6,792.2 L819.0,795.2 L819.4,798.2 L819.8,801.1 L820.1,804.1 L820.5,807.1 L820.9,810.1 L821.3,813.1 L821.7,816.0 L822.1,819.0 L822.4,822.0 L822.8,825.0 L823.2,827.9 L823.6,830.9 L824.0,833.9 L824.4,836.9 L824.7,839.8 L825.1,842.8 L825.5,845.8 L825.9,848.8 L826.3,851.7 L826.6,854.7 L827.0,857.7 L827.4,860.7 L827.7,863.6 L828.1,866.6 L828.5,869.6 L828.8,872.6 L829.2,875.6 L829.5,878.5 L829.9,881.5 L830.3,884.5 L830.6,887.5 L831.0,890.4 L831.3,893.4 L831.7,896.4 L832.1,899.4 L832.4,902.4 L832.8,905.3 L833.2,908.3 L833.5,911.3 L833.9,914.3 L834.3,917.2 L834.6,920.2 L835.0,923.2 L835.3,926.2 L835.7,929.2 L836.1,932.1 L836.4,935.1 L836.8,938.1 L837.1,941.1 L837.4,944.1 L837.8,947.0 L838.1,950.0 L838.4,953.0 L838.8,956.0 L839.1,959.0 L839.4,961.9 L839.7,964.9 L840.0,967.9 L840.3,970.9 L840.6,973.9 L841.0,976.9 L841.3,979.8 L841.6,982.8 L841.9,985.8 L842.2,988.8 L842.6,991.8 L842.9,994.8 L843.2,997.7 L843.6,1000.7 L843.9,1003.7 L844.3,1006.7 L844.6,1009.7 L845.0,1012.6 L845.4,1015.6 L845.8,1018.6 L846.2,1021.6 L846.5,1024.5 L846.9,1027.5 L847.3,1030.5 L847.7,1033.5 L848.1,1036.4 L848.6,1039.4 L849.0,1042.4 L849.4,1045.3 L849.8,1048.3 L850.3,1051.3 L850.7,1054.2 L851.2,1057.2 L851.6,1060.2 L852.1,1063.1 L852.5,1066.1 L853.0,1069.1 L853.5,1072.0 L853.9,1075.0 L854.4,1077.9 L854.9,1080.9 L855.4,1083.9 L855.9,1086.8 L856.4,1089.8 L856.9,1092.7 L857.4,1095.7 L857.9,1098.7 L858.4,1101.6 L858.9,1104.6 L859.4,1107.5 L859.9,1110.5 L860.4,1113.4 L860.9,1116.4 L861.5,1119.4 L862.0,1122.3 L862.5,1125.3 L863.0,1128.2 L863.6,1131.2 L864.1,1134.1 L864.7,1137.1 L865.2,1140.0 L865.8,1143.0 L866.3,1145.9 L866.9,1148.9 L867.4,1151.8 L868.0,1154.7 L868.6,1157.7 L869.1,1160.6 L869.7,1163.6 L870.3,1166.5 L870.9,1169.5 L871.5,1172.4 L872.1,1175.3 L872.7,1178.3 L873.3,1181.2 L873.9,1184.2 L874.5,1187.1 L875.2,1190.0 L875.8,1193.0 L876.5,1195.9 L877.1,1198.8 L877.8,1201.7 L878.5,1204.6 L879.2,1207.6 L879.9,1210.5 L880.6,1213.4 L881.3,1216.3 L882.0,1219.2 L882.8,1222.1 L883.5,1225.0 L884.2,1227.9 L885.0,1230.8 L885.8,1233.7 L886.6,1236.6 L887.3,1239.5 L888.1,1242.4 L889.0,1245.3 L889.8,1248.2 L890.6,1251.1 L891.5,1253.9 L892.3,1256.8 L893.2,1259.7 L894.1,1262.5 L895.0,1265.4 L896.0,1268.2 L896.9,1271.1 L897.9,1273.9 L898.8,1276.8 L899.8,1279.6 L900.7,1282.4 L901.7,1285.3 L902.8,1288.1 L903.8,1290.9 L904.9,1293.7 L906.1,1296.4 L907.2,1299.2 L908.4,1302.0 L909.6,1304.7 L910.8,1307.4 L912.1,1310.2 L913.3,1312.9 L914.6,1315.6 L915.9,1318.3 L917.2,1321.0 L918.5,1323.7 L919.9,1326.4 L921.3,1329.0 L922.7,1331.7 L924.1,1334.3 L925.6,1336.9 L927.0,1339.5 L928.5,1342.1 L930.0,1344.7 L931.6,1347.3 L933.1,1349.9 L934.6,1352.4 L936.2,1355.0 L937.8,1357.5 L939.4,1360.1 L941.0,1362.6 L942.7,1365.1 L944.3,1367.6 L946.1,1370.0 L947.8,1372.4 L949.6,1374.8 L951.5,1377.2 L953.4,1379.5 L955.3,1381.8 L957.3,1384.0 L959.3,1386.2 L961.4,1388.3 L963.6,1390.4 L965.8,1392.4 L968.0,1394.4 L970.3,1396.3 L972.7,1398.1 L975.1,1399.9 L977.5,1401.6 L980.1,1403.2 L982.6,1404.7 L985.2,1406.2 L987.8,1407.7 L990.5,1409.0 L993.2,1410.3 L995.9,1411.5 L998.7,1412.6 L1001.5,1413.6 L1004.3,1414.4 L1007.2,1415.2 L1010.1,1415.9 L1013.0,1416.5 L1016.0,1417.0 L1018.9,1417.4 L1021.9,1417.6 L1024.9,1417.8 L1027.9,1417.9 L1030.8,1417.8 L1033.8,1417.8 L1036.8,1417.6 L1039.8,1417.5 L1042.8,1417.2 L1045.8,1417.0 L1048.8,1416.7 L1051.8,1416.4 L1054.7,1416.0 L1057.7,1415.7 L1060.7,1415.3 L1063.7,1414.9 L1066.6,1414.5 L1069.6,1414.1 L1072.6,1413.7 L1075.5,1413.3 L1078.5,1412.8 L1081.4,1412.3 L1084.4,1411.9 L1087.4,1411.4 L1090.3,1410.9 L1093.3,1410.4 L1096.2,1409.9 L1099.2,1409.4 L1102.1,1408.8 L1105.1,1408.3 L1108.1,1407.8 L1111.0,1407.3 L1114.0,1406.8 L1116.9,1406.3 L1119.9,1405.8 L1122.8,1405.3 L1125.8,1404.8 L1128.8,1404.3 L1131.7,1403.9 L1134.7,1403.4 L1137.6,1402.9 L1140.6,1402.4 L1143.5,1401.9 L1146.5,1401.4 L1149.5,1400.9 L1152.4,1400.4 L1155.4,1399.9 L1158.3,1399.4 L1161.3,1398.9 L1164.2,1398.4 L1167.2,1397.8 L1170.1,1397.2 L1173.0,1396.5 L1175.9,1395.9 L1178.8,1395.1 L1181.7,1394.4 L1184.6,1393.6 L1187.5,1392.7 L1190.4,1391.9 L1193.2,1390.9 L1196.0,1390.0 L1198.9,1389.0 L1201.6,1387.9 L1204.4,1386.8 L1207.2,1385.6 L1209.9,1384.4 L1212.7,1383.2 L1215.4,1382.0 L1218.2,1380.8 L1220.9,1379.6 L1223.7,1378.4 L1226.4,1377.3 L1229.2,1376.1 L1231.9,1374.9 L1234.7,1373.7 L1237.4,1372.5 L1240.2,1371.3 L1242.9,1370.1 L1245.7,1368.9 L1248.5,1367.8 L1251.2,1366.6 L1254.0,1365.5 L1256.8,1364.3 L1259.5,1363.2 L1262.3,1362.0 L1265.1,1360.9 L1267.9,1359.8 L1270.7,1358.8 L1273.5,1357.7 L1276.3,1356.7 L1279.2,1355.8 L1282.0,1354.9 L1284.9,1354.1 L1287.8,1353.3 L1290.7,1352.6 L1293.6,1352.0 L1296.5,1351.5 L1299.5,1351.0 L1302.5,1350.6 L1305.4,1350.2 L1308.4,1350.0 L1311.4,1349.7 L1314.4,1349.5 L1317.4,1349.4 L1320.4,1349.2 L1323.4,1349.2 L1326.3,1349.1 L1329.3,1349.1 L1332.3,1349.1 L1335.3,1349.1 L1338.3,1349.2 L1341.3,1349.3 L1344.3,1349.5 L1347.3,1349.6 L1350.3,1349.9 L1353.3,1350.1 L1356.2,1350.4 L1359.2,1350.8 L1362.2,1351.2 L1365.1,1351.6 L1368.1,1352.1 L1371.0,1352.7 L1374.0,1353.2 L1376.9,1353.8 L1379.8,1354.5 L1382.7,1355.2 L1385.7,1355.9 L1388.5,1356.7 L1391.4,1357.5 L1394.3,1358.3 L1397.2,1359.1 L1400.1,1359.9 L1403.0,1360.8 L1405.8,1361.7 L1408.7,1362.6 L1411.5,1363.4 L1414.4,1364.4 L1417.3,1365.3 L1420.1,1366.2 L1422.9,1367.2 L1425.8,1368.1 L1428.6,1369.1 L1431.4,1370.1 L1434.3,1371.1 L1437.1,1372.2 L1439.9,1373.2 L1442.7,1374.3 L1445.5,1375.3 L1448.3,1376.4 L1451.1,1377.5 L1453.9,1378.6 L1456.7,1379.7 L1459.5,1380.7 L1462.3,1381.8 L1465.1,1382.9 L1467.9,1384.0 L1470.7,1385.1 L1473.5,1386.2 L1476.3,1387.3 L1479.1,1388.3 L1481.9,1389.4 L1484.7,1390.4 L1487.5,1391.4 L1490.3,1392.5 L1493.1,1393.5 L1495.9,1394.5 L1498.8,1395.5 L1501.6,1396.5 L1504.4,1397.4 L1507.3,1398.4 L1510.2,1399.3 L1513.0,1400.1 L1515.9,1401.0 L1518.8,1401.8 L1521.7,1402.5 L1524.6,1403.3 L1527.5,1404.0 L1530.4,1404.7 L1533.3,1405.4 L1536.2,1406.0 L1539.2,1406.6 L1542.1,1407.2 L1545.1,1407.7 L1548.0,1408.2 L1551.0,1408.7 L1554.0,1409.1 L1556.9,1409.5 L1559.9,1409.9 L1562.9,1410.3 L1565.8,1410.7 L1568.8,1411.1 L1571.8,1411.4 L1574.8,1411.8 L1577.7,1412.1 L1580.7,1412.4 L1583.7,1412.7 L1586.7,1413.0 L1589.7,1413.3 L1592.7,1413.5 L1595.7,1413.8 L1598.6,1414.0 L1601.6,1414.2 L1604.6,1414.5 L1607.6,1414.7 L1610.6,1414.8 L1613.6,1415.0 L1616.6,1415.2 L1619.6,1415.3 L1622.6,1415.5 L1625.6,1415.6 L1628.6,1415.8 L1631.6,1415.9 L1634.6,1416.0 L1637.6,1416.1 L1640.6,1416.2 L1643.6,1416.3 L1646.6,1416.4 L1649.6,1416.5 L1652.6,1416.6 L1655.6,1416.7 L1658.6,1416.8 L1661.6,1416.9 L1664.5,1417.0 L1667.5,1417.1 L1670.5,1417.3 L1673.5,1417.4 L1676.5,1417.5 L1679.5,1417.6 L1682.5,1417.6 L1685.5,1417.7 L1688.5,1417.8 L1691.5,1418.0 L1694.5,1418.2 L1697.5,1418.5 L1700.4,1418.9 L1703.4,1419.3 L1706.3,1419.9 L1709.2,1420.5 L1712.1,1421.1 L1715.1,1421.8 L1718.0,1422.5 L1720.9,1423.2 L1723.8,1423.9 L1726.7,1424.5 L1729.7,1425.1 L1732.6,1425.6 L1735.5,1426.1 L1738.5,1426.4 L1741.5,1426.7 L1744.4,1427.0 L1747.3,1427.2 L1750.2,1427.3 L1753.2,1427.5 L1756.1,1427.7 L1759.0,1427.9 L1760.0,1428.0" fill="none" stroke="#000" stroke-width="10.8" stroke-linecap="round" stroke-linejoin="round" clip-path="url(#clipa)"/>
<path d="M422.0,1428.0 L455.0,1428.0 L455.0,1428.0 L458.0,1427.7 L461.0,1427.4 L463.9,1427.2 L466.9,1426.9 L469.9,1426.5 L472.8,1426.1 L475.8,1425.5 L478.7,1424.8 L481.5,1424.0 L484.3,1423.0 L485.2,1422.6 L486.1,1422.2 L487.0,1421.7 L487.9,1421.3 L488.7,1420.8 L489.6,1420.3 L490.4,1419.8 L491.2,1419.2 L492.0,1418.6 L492.8,1418.0 L493.5,1417.4 L494.3,1416.8 L496.4,1414.7 L498.4,1412.5 L500.2,1410.2 L502.0,1407.8 L503.7,1405.3 L505.3,1402.8 L506.9,1400.3 L508.5,1397.7 L510.0,1395.1 L511.5,1392.6 L513.0,1390.0 L514.5,1387.3 L515.9,1384.7 L517.3,1382.1 L518.7,1379.4 L520.0,1376.7 L521.3,1374.0 L522.5,1371.3 L523.7,1368.6 L524.9,1365.8 L526.0,1363.0 L527.1,1360.2 L528.2,1357.5 L529.2,1354.6 L530.3,1351.8 L531.2,1349.0 L532.2,1346.1 L533.1,1343.3 L533.9,1340.4 L534.8,1337.5 L535.6,1334.7 L536.3,1331.8 L537.1,1328.9 L537.8,1325.9 L538.6,1323.0 L539.3,1320.1 L540.1,1317.2 L540.8,1314.3 L541.5,1311.4 L542.2,1308.5 L542.9,1305.6 L543.6,1302.7 L544.2,1299.7 L544.9,1296.8 L545.5,1293.9 L546.2,1290.9 L546.8,1288.0 L547.4,1285.1 L548.0,1282.1 L548.6,1279.2 L549.2,1276.3 L549.8,1273.3 L550.4,1270.4 L551.0,1267.4 L551.5,1264.5 L552.1,1261.6 L552.7,1258.6 L553.2,1255.7 L553.7,1252.7 L554.3,1249.8 L554.8,1246.8 L555.4,1243.9 L555.9,1240.9 L556.4,1237.9 L556.9,1235.0 L557.4,1232.0 L557.9,1229.1 L558.4,1226.1 L558.9,1223.2 L559.4,1220.2 L559.9,1217.2 L560.4,1214.3 L560.9,1211.3 L561.4,1208.4 L561.8,1205.4 L562.3,1202.4 L562.8,1199.5 L563.2,1196.5 L563.7,1193.5 L564.2,1190.6 L564.6,1187.6 L565.1,1184.6 L565.5,1181.7 L566.0,1178.7 L566.5,1175.8 L566.9,1172.8 L567.4,1169.8 L567.8,1166.9 L568.3,1163.9 L568.7,1160.9 L569.2,1158.0 L569.6,1155.0 L570.1,1152.0 L570.5,1149.1 L571.0,1146.1 L571.4,1143.1 L571.9,1140.2 L572.3,1137.2 L572.8,1134.2 L573.2,1131.3 L573.7,1128.3 L574.1,1125.3 L574.6,1122.4 L575.0,1119.4 L575.5,1116.4 L576.0,1113.5 L576.4,1110.5 L576.9,1107.5 L577.3,1104.6 L577.8,1101.6 L578.2,1098.6 L578.7,1095.7 L579.1,1092.7 L579.6,1089.8 L580.1,1086.8 L580.5,1083.8 L581.0,1080.9 L581.4,1077.9 L581.9,1074.9 L582.3,1072.0 L582.8,1069.0 L583.2,1066.0 L583.7,1063.1 L584.1,1060.1 L584.6,1057.1 L585.0,1054.2 L585.5,1051.2 L585.9,1048.2 L586.4,1045.3 L586.8,1042.3 L587.3,1039.3 L587.7,1036.4 L588.2,1033.4 L588.6,1030.4 L589.1,1027.5 L589.5,1024.5 L590.0,1021.5 L590.4,1018.6 L590.9,1015.6 L591.3,1012.6 L591.8,1009.7 L592.3,1006.7 L592.7,1003.7 L593.2,1000.8 L593.6,997.8 L594.1,994.8 L594.5,991.9 L595.0,988.9 L595.4,986.0 L595.9,983.0 L596.3,980.0 L596.8,977.1 L597.2,974.1 L597.7,971.1 L598.1,968.2 L598.6,965.2 L599.0,962.2 L599.5,959.3 L599.9,956.3 L600.4,953.3 L600.8,950.4 L601.3,947.4 L601.7,944.4 L602.2,941.5 L602.6,938.5 L603.1,935.5 L603.5,932.6 L604.0,929.6 L604.4,926.6 L604.9,923.7 L605.3,920.7 L605.8,917.7 L606.2,914.8 L606.7,911.8 L607.1,908.8 L607.6,905.9 L608.0,902.9 L608.5,899.9 L608.9,897.0 L609.4,894.0 L609.9,891.0 L610.3,888.1 L610.8,885.1 L611.3,882.2 L611.7,879.2 L612.2,876.2 L612.7,873.3 L613.1,870.3 L613.6,867.3 L614.1,864.4 L614.6,861.4 L615.0,858.5 L615.5,855.5 L616.0,852.5 L616.5,849.6 L617.0,846.6 L617.5,843.6 L617.9,840.7 L618.4,837.7 L618.9,834.8 L619.4,831.8 L619.8,828.8 L620.3,825.9 L620.8,822.9 L621.2,820.0 L621.7,817.0 L622.1,814.0 L622.6,811.1 L623.0,808.1 L623.5,805.1 L623.9,802.2 L624.4,799.2 L624.8,796.2 L625.3,793.3 L625.7,790.3 L626.2,787.3 L626.7,784.4 L627.1,781.4 L627.6,778.4 L628.1,775.5 L628.6,772.5 L629.1,769.6 L629.6,766.6 L630.1,763.7 L630.7,760.7 L631.2,757.8 L631.8,754.8 L632.4,751.9 L633.0,749.0 L633.6,746.1 L634.2,743.2 L634.8,740.2 L635.4,737.3 L635.9,734.3 L636.5,731.3 L637.2,728.4 L637.8,725.4 L638.5,722.5 L638.9,720.6 L639.2,719.6 L639.4,718.6 L639.7,717.7 L640.0,716.7 L640.2,715.7 L640.5,714.8 L640.8,713.8 L641.1,712.9 L641.4,711.9 L641.7,711.0 L642.0,710.0 L642.3,709.1 L642.6,708.1 L642.9,707.2 L643.3,706.2 L643.7,705.3 L644.1,704.4 L644.5,703.6 L645.0,702.7 L645.5,701.8 L646.0,701.0 L646.6,700.3 L647.1,699.6 L647.6,699.1 L648.1,698.8 L648.7,698.7 L649.2,698.9 L649.7,699.4 L650.3,700.0 L650.8,700.7 L651.3,701.6 L651.8,702.4 L652.3,703.2 L652.8,704.1 L653.2,705.0 L653.6,705.9 L654.0,706.8 L654.4,707.8 L654.8,708.7 L655.1,709.6 L655.4,710.6 L655.8,711.5 L656.1,712.5 L656.4,713.4 L656.7,714.3 L657.1,715.3 L657.4,716.2 L657.7,717.2 L658.0,718.2 L658.2,719.1 L658.5,720.1 L658.8,721.0 L659.5,723.9 L660.3,726.8 L661.0,729.8 L661.7,732.7 L662.3,735.6 L662.9,738.6 L663.6,741.6 L664.3,744.5 L665.0,747.4 L665.7,750.3 L666.3,753.2 L667.0,756.1 L667.7,759.0 L668.3,761.9 L669.0,764.9 L669.6,767.8 L670.3,770.7 L670.9,773.6 L671.6,776.6 L672.2,779.5 L672.9,782.4 L673.5,785.4 L674.2,788.3 L674.8,791.2 L675.5,794.1 L676.1,797.1 L676.8,800.0 L677.4,802.9 L678.0,805.9 L678.7,808.8 L679.3,811.7 L679.9,814.7 L680.5,817.6 L681.2,820.5 L681.8,823.5 L682.4,826.4 L683.0,829.3 L683.6,832.3 L684.2,835.2 L684.7,838.2 L685.3,841.1 L685.9,844.1 L686.5,847.0 L687.0,849.9 L687.6,852.9 L688.1,855.8 L688.7,858.8 L689.2,861.7 L689.8,864.7 L690.3,867.6 L690.9,870.6 L691.4,873.5 L691.9,876.5 L692.5,879.4 L693.0,882.4 L693.5,885.4 L694.0,888.3 L694.5,891.3 L695.0,894.2 L695.5,897.2 L696.0,900.1 L696.5,903.1 L697.0,906.1 L697.5,909.0 L698.0,912.0 L698.5,914.9 L699.0,917.9 L699.5,920.8 L700.0,923.8 L700.5,926.8 L701.0,929.7 L701.5,932.7 L702.0,935.6 L702.5,938.6 L703.0,941.6 L703.5,944.5 L704.0,947.5 L704.5,950.4 L705.0,953.4 L705.5,956.3 L706.0,959.3 L706.5,962.3 L707.0,965.2 L707.5,968.2 L708.0,971.1 L708.5,974.1 L709.0,977.0 L709.5,980.0 L710.0,983.0 L710.5,985.9 L711.0,988.9 L711.5,991.8 L711.9,994.8 L712.4,997.8 L712.9,1000.7 L713.4,1003.7 L713.9,1006.6 L714.4,1009.6 L714.8,1012.6 L715.3,1015.5 L715.8,1018.5 L716.4,1021.4 L716.9,1024.4 L717.5,1027.3 L718.1,1030.3 L718.7,1033.2 L719.3,1036.1 L719.9,1039.1 L720.5,1042.0 L721.2,1044.9 L721.8,1047.9 L722.4,1050.8 L723.1,1053.7 L723.8,1056.6 L724.5,1059.6 L725.1,1062.5 L725.8,1065.4 L726.5,1068.3 L727.3,1071.2 L728.0,1074.1 L728.7,1077.0 L729.5,1079.9 L730.2,1082.8 L731.0,1085.7 L731.8,1088.6 L732.6,1091.5 L733.4,1094.4 L734.2,1097.3 L735.0,1100.2 L735.9,1103.1 L736.7,1105.9 L737.5,1108.8 L738.4,1111.7 L739.3,1114.5 L740.2,1117.4 L741.1,1120.3 L742.0,1123.1 L743.0,1125.9 L744.0,1128.8 L745.0,1131.6 L746.0,1134.4 L747.1,1137.2 L748.2,1140.0 L748.9,1141.9 L749.3,1142.8 L749.7,1143.7 L750.1,1144.6 L750.5,1145.5 L750.9,1146.4 L751.3,1147.4 L751.8,1148.3 L752.2,1149.2 L752.7,1150.0 L753.1,1150.9 L753.6,1151.8 L754.1,1152.6 L754.7,1153.5 L755.2,1154.3 L755.8,1155.1 L756.4,1155.8 L757.0,1156.5 L757.7,1157.2 L758.4,1157.8 L759.2,1158.3 L760.0,1158.8 L760.8,1159.1 L761.7,1159.3 L762.6,1159.4 L763.4,1159.3 L764.3,1159.2 L765.2,1158.9 L766.0,1158.5 L766.8,1158.0 L767.6,1157.5 L768.3,1156.9 L769.1,1156.2 L769.8,1155.5 L770.4,1154.8 L771.1,1154.0 L771.7,1153.3 L772.3,1152.5 L772.9,1151.7 L773.4,1150.9 L773.9,1150.0 L774.4,1149.2 L774.9,1148.3 L775.4,1147.4 L775.8,1146.5 L776.2,1145.6 L776.6,1144.7 L777.0,1143.8 L777.4,1142.9 L777.8,1142.0 L778.9,1139.2 L780.0,1136.4 L781.1,1133.6 L782.1,1130.8 L783.1,1127.9 L784.0,1125.1 L785.0,1122.2 L785.9,1119.4 L786.8,1116.5 L787.7,1113.7 L788.6,1110.8 L789.4,1107.9 L790.3,1105.1 L791.1,1102.2 L792.0,1099.3 L792.8,1096.4 L793.6,1093.5 L794.4,1090.7 L795.2,1087.8 L796.0,1084.9 L796.8,1082.0 L797.5,1079.1 L798.3,1076.2 L799.0,1073.3 L799.8,1070.4 L800.5,1067.5 L801.2,1064.5 L801.9,1061.6 L802.6,1058.7 L803.3,1055.8 L804.0,1052.9 L804.7,1050.0 L805.4,1047.0 L806.1,1044.1 L806.8,1041.2 L807.4,1038.3 L808.1,1035.3 L808.7,1032.4 L809.4,1029.5 L810.0,1026.6 L810.7,1023.6 L811.3,1020.7 L811.9,1017.8 L812.5,1014.8 L813.2,1011.9 L813.8,1009.0 L814.4,1006.0 L815.0,1003.1 L815.6,1000.2 L816.3,997.2 L816.9,994.3 L817.6,991.4 L818.3,988.5 L819.0,985.5 L819.7,982.6 L820.4,979.7 L821.1,976.8 L821.8,973.9 L822.5,971.0 L823.3,968.1 L824.0,965.2 L824.8,962.3 L825.6,959.4 L826.4,956.5 L827.2,953.6 L828.0,950.7 L828.8,947.8 L829.7,945.0 L830.6,942.1 L831.5,939.2 L832.4,936.4 L833.3,933.5 L834.2,930.7 L835.2,927.9 L836.2,925.0 L837.2,922.2 L838.2,919.4 L839.3,916.6 L840.4,913.8 L841.5,911.0 L842.7,908.3 L843.8,905.5 L845.0,902.7 L846.2,900.0 L847.4,897.3 L848.3,895.4 L848.7,894.5 L849.1,893.6 L849.6,892.7 L850.0,891.8 L850.4,890.9 L850.9,890.1 L851.3,889.2 L851.8,888.3 L852.3,887.4 L852.8,886.5 L853.2,885.7 L853.7,884.8 L854.3,884.0 L854.8,883.2 L855.4,882.4 L856.1,881.7 L856.8,881.0 L857.5,880.4 L858.2,879.8 L859.0,879.3 L859.8,878.8 L860.6,878.5 L861.3,878.4 L862.1,878.3 L862.9,878.5 L863.7,878.8 L864.5,879.2 L865.2,879.7 L866.0,880.3 L866.7,880.9 L867.5,881.5 L868.1,882.2 L868.8,883.0 L869.4,883.7 L870.0,884.5 L870.6,885.3 L871.2,886.1 L871.7,887.0 L872.2,887.8 L872.8,888.7 L873.3,889.5 L873.8,890.4 L874.3,891.2 L874.7,892.1 L875.1,893.0 L875.6,893.9 L875.9,894.8 L876.3,895.7 L876.7,896.7 L877.0,897.6 L877.6,899.5 L878.5,902.4 L879.3,905.2 L880.1,908.1 L880.9,911.0 L881.6,913.9 L882.3,916.9 L883.0,919.8 L883.6,922.7 L884.3,925.6 L884.9,928.6 L885.6,931.5 L886.3,934.4 L887.0,937.3 L887.7,940.2 L888.3,943.1 L889.0,946.1 L889.6,949.0 L890.2,951.9 L890.9,954.9 L891.5,957.8 L892.2,960.7 L892.8,963.6 L893.5,966.6 L894.1,969.5 L894.8,972.4 L895.5,975.3 L896.2,978.3 L896.8,981.2 L897.5,984.1 L898.3,987.0 L899.0,989.9 L899.7,992.8 L900.4,995.8 L901.1,998.7 L901.8,1001.6 L902.5,1004.5 L903.2,1007.4 L903.9,1010.3 L904.6,1013.2 L905.3,1016.2 L906.0,1019.1 L906.7,1022.0 L907.4,1024.9 L908.1,1027.8 L908.8,1030.8 L909.5,1033.7 L910.1,1036.6 L910.8,1039.5 L911.5,1042.5 L912.1,1045.4 L912.8,1048.3 L913.4,1051.2 L914.0,1054.2 L914.7,1057.1 L915.3,1060.0 L915.9,1063.0 L916.5,1065.9 L917.1,1068.9 L917.7,1071.8 L918.3,1074.7 L918.9,1077.7 L919.5,1080.6 L920.1,1083.5 L920.7,1086.5 L921.3,1089.4 L921.9,1092.4 L922.5,1095.3 L923.1,1098.3 L923.7,1101.2 L924.3,1104.1 L924.9,1107.1 L925.5,1110.0 L926.0,1113.0 L926.6,1115.9 L927.2,1118.8 L927.8,1121.8 L928.4,1124.7 L929.0,1127.7 L929.6,1130.6 L930.2,1133.5 L930.8,1136.5 L931.4,1139.4 L932.1,1142.3 L932.7,1145.3 L933.3,1148.2 L933.9,1151.2 L934.6,1154.1 L935.2,1157.0 L935.8,1159.9 L936.5,1162.9 L937.2,1165.8 L937.8,1168.7 L938.5,1171.6 L939.2,1174.6 L939.8,1177.5 L940.5,1180.4 L941.2,1183.3 L941.9,1186.2 L942.6,1189.2 L943.3,1192.1 L944.1,1195.0 L944.8,1197.9 L945.5,1200.8 L946.3,1203.7 L947.1,1206.6 L947.8,1209.5 L948.6,1212.4 L949.4,1215.3 L950.2,1218.2 L951.0,1221.1 L951.8,1224.0 L952.6,1226.9 L953.4,1229.7 L954.2,1232.6 L955.0,1235.5 L955.9,1238.4 L956.7,1241.3 L957.5,1244.2 L958.4,1247.0 L959.2,1249.9 L960.1,1252.8 L961.0,1255.7 L961.9,1258.5 L962.7,1261.4 L963.6,1264.2 L964.5,1267.1 L965.4,1270.0 L966.4,1272.8 L967.3,1275.7 L968.3,1278.5 L969.3,1281.3 L970.3,1284.1 L971.4,1286.9 L972.4,1289.7 L973.6,1292.5 L974.7,1295.3 L975.8,1298.1 L977.0,1300.8 L978.2,1303.6 L979.4,1306.3 L980.6,1309.0 L981.9,1311.8 L983.1,1314.5 L984.4,1317.2 L985.7,1319.9 L987.0,1322.6 L988.3,1325.3 L989.6,1328.0 L991.0,1330.6 L992.4,1333.3 L993.9,1335.9 L995.4,1338.5 L997.0,1341.0 L998.6,1343.5 L1000.3,1346.0 L1002.0,1348.4 L1003.8,1350.9 L1005.6,1353.2 L1007.4,1355.6 L1009.3,1357.9 L1011.2,1360.3 L1013.1,1362.6 L1015.1,1364.8 L1017.0,1367.1 L1019.0,1369.3 L1021.0,1371.5 L1023.1,1373.7 L1025.2,1375.8 L1027.3,1377.9 L1029.5,1379.9 L1031.8,1381.9 L1034.1,1383.8 L1036.4,1385.7 L1038.8,1387.5 L1041.1,1389.4 L1043.6,1391.1 L1046.0,1392.8 L1048.5,1394.5 L1051.0,1396.2 L1053.5,1397.7 L1056.1,1399.3 L1058.7,1400.8 L1061.3,1402.2 L1063.9,1403.6 L1066.6,1405.0 L1069.3,1406.3 L1072.0,1407.6 L1074.7,1408.9 L1077.4,1410.1 L1080.2,1411.3 L1082.9,1412.5 L1085.7,1413.6 L1088.5,1414.7 L1091.3,1415.8 L1094.1,1416.8 L1096.9,1417.8 L1099.7,1418.8 L1102.6,1419.8 L1105.4,1420.7 L1108.3,1421.5 L1111.2,1422.3 L1114.1,1423.1 L1117.0,1423.8 L1119.9,1424.4 L1122.8,1425.0 L1125.8,1425.5 L1128.7,1425.9 L1131.7,1426.3 L1134.7,1426.6 L1137.7,1426.9 L1140.7,1427.1 L1143.6,1427.2 L1146.6,1427.4 L1149.6,1427.5 L1152.6,1427.6 L1155.6,1427.6 L1158.6,1427.7 L1161.6,1427.9 L1164.6,1428.0 L1165.0,1428.0 L1502.0,1428.0" fill="none" stroke="#ff0000" stroke-width="10.8" stroke-linecap="round" stroke-linejoin="round" clip-path="url(#clipa)"/>
<path d="M478.8,3100.2 L479.9,3097.4 L480.9,3094.6 L482.0,3091.8 L483.1,3089.0 L484.1,3086.2 L485.1,3083.4 L486.2,3080.6 L487.2,3077.7 L488.2,3074.9 L489.2,3072.1 L490.2,3069.2 L491.1,3066.4 L492.1,3063.6 L493.0,3060.7 L494.0,3057.9 L494.9,3055.0 L495.8,3052.2 L496.7,3049.3 L497.6,3046.4 L498.5,3043.6 L499.3,3040.7 L500.1,3037.8 L500.9,3034.9 L501.6,3032.0 L502.3,3029.1 L503.0,3026.2 L503.7,3023.3 L504.4,3020.3 L505.1,3017.4 L505.7,3014.5 L506.4,3011.6 L507.0,3008.6 L507.6,3005.7 L508.2,3002.8 L508.8,2999.8 L509.4,2996.9 L510.0,2994.0 L510.5,2991.0 L511.0,2988.1 L511.6,2985.1 L512.1,2982.1 L512.6,2979.2 L513.1,2976.2 L513.6,2973.3 L514.0,2970.3 L514.5,2967.3 L514.9,2964.4 L515.4,2961.4 L515.8,2958.4 L516.2,2955.5 L516.6,2952.5 L517.0,2949.5 L517.4,2946.6 L517.8,2943.6 L518.2,2940.6 L518.6,2937.6 L518.9,2934.7 L519.3,2931.7 L519.7,2928.7 L520.0,2925.7 L520.3,2922.7 L520.7,2919.8 L521.0,2916.8 L521.3,2913.8 L521.6,2910.8 L521.9,2907.8 L522.3,2904.8 L522.6,2901.9 L522.8,2898.9 L523.1,2895.9 L523.4,2892.9 L523.7,2889.9 L524.0,2886.9 L524.3,2883.9 L524.5,2881.0 L524.8,2878.0 L525.1,2875.0 L525.3,2872.0 L525.6,2869.0 L525.9,2866.0 L526.1,2863.0 L526.4,2860.0 L526.7,2857.0 L526.9,2854.1 L527.2,2851.1 L527.4,2848.1 L527.7,2845.1 L528.0,2842.1 L528.3,2839.1 L528.5,2836.1 L528.8,2833.1 L529.1,2830.2 L529.3,2827.2 L529.6,2824.2 L529.9,2821.2 L530.2,2818.2 L530.4,2815.2 L530.7,2812.2 L531.0,2809.2 L531.3,2806.3 L531.5,2803.3 L531.8,2800.3 L532.1,2797.3 L532.4,2794.3 L532.6,2791.3 L532.9,2788.3 L533.2,2785.3 L533.4,2782.4 L533.7,2779.4 L534.0,2776.4 L534.3,2773.4 L534.5,2770.4 L534.8,2767.4 L535.1,2764.4 L535.3,2761.4 L535.6,2758.5 L535.9,2755.5 L536.2,2752.5 L536.4,2749.5 L536.7,2746.5 L537.0,2743.5 L537.2,2740.5 L537.5,2737.5 L537.8,2734.6 L538.0,2731.6 L538.3,2728.6 L538.6,2725.6 L538.8,2722.6 L539.1,2719.6 L539.4,2716.6 L539.6,2713.6 L539.9,2710.6 L540.1,2707.7 L540.4,2704.7 L540.7,2701.7 L540.9,2698.7 L541.2,2695.7 L541.5,2692.7 L541.7,2689.7 L542.0,2686.7 L542.3,2683.8 L542.5,2680.8 L542.8,2677.8 L543.1,2674.8 L543.3,2671.8 L543.6,2668.8 L543.9,2665.8 L544.1,2662.8 L544.4,2659.8 L544.7,2656.9 L544.9,2653.9 L545.2,2650.9 L545.5,2647.9 L545.7,2644.9 L546.0,2641.9 L546.2,2638.9 L546.5,2635.9 L546.8,2633.0 L547.0,2630.0 L547.3,2627.0 L547.6,2624.0 L547.8,2621.0 L548.1,2618.0 L548.3,2615.0 L548.6,2612.0 L548.9,2609.0 L549.1,2606.1 L549.4,2603.1 L549.6,2600.1 L549.8,2597.1 L550.1,2594.1 L550.3,2591.1 L550.6,2588.1 L550.8,2585.1 L551.0,2582.1 L551.3,2579.1 L551.5,2576.1 L551.7,2573.2 L551.9,2570.2 L552.2,2567.2 L552.4,2564.2 L552.6,2561.2 L552.8,2558.2 L553.0,2555.2 L553.2,2552.2 L553.5,2549.2 L553.7,2546.2 L553.9,2543.2 L554.1,2540.2 L554.3,2537.3 L554.5,2534.3 L554.7,2531.3 L554.9,2528.3 L555.1,2525.3 L555.4,2522.3 L555.6,2519.3 L555.8,2516.3 L556.0,2513.3 L556.2,2510.3 L556.4,2507.3 L556.6,2504.3 L556.8,2501.3 L557.0,2498.3 L557.2,2495.4 L557.4,2492.4 L557.6,2489.4 L557.8,2486.4 L558.0,2483.4 L558.2,2480.4 L558.4,2477.4 L558.6,2474.4 L558.9,2471.4 L559.1,2468.4 L559.3,2465.4 L559.5,2462.4 L559.7,2459.4 L559.9,2456.4 L560.1,2453.4 L560.3,2450.5 L560.5,2447.5 L560.7,2444.5 L560.9,2441.5 L561.1,2438.5 L561.3,2435.5 L561.6,2432.5 L561.8,2429.5 L562.0,2426.5 L562.2,2423.5 L562.4,2420.5 L562.6,2417.5 L562.8,2414.5 L563.0,2411.6 L563.2,2408.6 L563.5,2405.6 L563.7,2402.6 L563.9,2399.6 L564.1,2396.6 L564.3,2393.6 L564.5,2390.6 L564.7,2387.6 L565.0,2384.6 L565.2,2381.6 L565.4,2378.6 L565.6,2375.6 L565.8,2372.7 L566.1,2369.7 L566.3,2366.7 L566.5,2363.7 L566.7,2360.7 L566.9,2357.7 L567.2,2354.7 L567.4,2351.7 L567.6,2348.7 L567.8,2345.7 L568.0,2342.7 L568.3,2339.7 L568.5,2336.8 L568.7,2333.8 L569.0,2330.8 L569.2,2327.8 L569.4,2324.8 L569.6,2321.8 L569.8,2318.8 L570.1,2315.8 L570.3,2312.8 L570.5,2309.8 L570.7,2306.8 L570.9,2303.8 L571.1,2300.8 L571.3,2297.9 L571.5,2294.9 L571.7,2291.9 L571.9,2288.9 L572.1,2285.9 L572.3,2282.9 L572.5,2279.9 L572.7,2276.9 L572.9,2273.9 L573.0,2270.9 L573.2,2267.9 L573.4,2264.9 L573.6,2261.9 L573.8,2258.9 L573.9,2255.9 L574.1,2252.9 L574.3,2249.9 L574.5,2247.0 L574.7,2244.0 L574.8,2241.0 L575.0,2238.0 L575.2,2235.0 L575.4,2232.0 L575.6,2229.0 L575.7,2226.0 L575.9,2223.0 L576.1,2220.0 L576.3,2217.0 L576.5,2214.0 L576.7,2211.0 L576.9,2208.0 L577.0,2205.0 L577.2,2202.0 L577.4,2199.0 L577.6,2196.1 L577.8,2193.1 L578.0,2190.1 L578.2,2187.1 L578.4,2184.1 L578.6,2181.1 L578.8,2178.1 L579.0,2175.1 L579.2,2172.1 L579.4,2169.1 L579.6,2166.1 L579.8,2163.1 L580.0,2160.1 L580.2,2157.1 L580.5,2154.1 L580.7,2151.2 L580.9,2148.2 L581.1,2145.2 L581.3,2142.2 L581.5,2139.2 L581.7,2136.2 L581.9,2133.2 L582.2,2130.2 L582.4,2127.2 L582.6,2124.2 L582.8,2121.2 L583.0,2118.2 L583.2,2115.2 L583.5,2112.3 L583.7,2109.3 L583.9,2106.3 L584.1,2103.3 L584.3,2100.3 L584.5,2097.3 L584.8,2094.3 L585.0,2091.3 L585.2,2088.3 L585.4,2085.3 L585.6,2082.3 L585.8,2079.3 L586.0,2076.3 L586.3,2073.4 L586.5,2070.4 L586.7,2067.4 L586.9,2064.4 L587.1,2061.4 L587.3,2058.4 L587.5,2055.4 L587.7,2052.4 L587.9,2049.4 L588.0,2046.4 L588.2,2043.4 L588.4,2040.4 L588.6,2037.4 L588.7,2034.4 L588.9,2031.4 L589.1,2028.4 L589.3,2025.5 L589.4,2022.5 L589.6,2019.5 L589.8,2016.5 L590.0,2013.5 L590.2,2010.5 L590.3,2007.5 L590.5,2004.5 L590.7,2001.5 L590.9,1998.5 L591.1,1995.5 L591.4,1992.5 L591.6,1989.5 L591.8,1986.5 L592.1,1983.6 L592.3,1980.6 L592.6,1977.6 L592.8,1974.6 L593.1,1971.6 L593.4,1968.6 L593.6,1965.6 L593.9,1962.6 L594.2,1959.7 L594.5,1956.7 L594.8,1953.7 L595.1,1950.7 L595.4,1947.7 L595.7,1944.7 L596.0,1941.8 L596.4,1938.8 L596.7,1935.9 L597.0,1932.9 L597.3,1929.9 L597.6,1926.9 L598.0,1923.9 L598.3,1920.9 L598.7,1917.9 L599.1,1914.9 L599.5,1912.0 L599.7,1911.0 L599.9,1910.0 L600.0,1909.0 L600.2,1908.0 L600.4,1907.1 L600.6,1906.1 L600.8,1905.1 L601.0,1904.1 L601.3,1903.2 L601.5,1902.2 L601.7,1901.2 L602.0,1900.2 L602.2,1899.3 L602.5,1898.3 L602.7,1897.3 L603.0,1896.4 L603.3,1895.4 L603.6,1894.5 L604.0,1893.6 L604.4,1892.7 L604.9,1891.8 L605.4,1891.0 L605.9,1890.2 L606.4,1889.4 L606.9,1888.8 L607.4,1888.4 L607.9,1888.2 L608.4,1888.3 L608.9,1888.6 L609.5,1889.2 L610.0,1889.9 L610.5,1890.7 L611.0,1891.5 L611.4,1892.4 L611.9,1893.3 L612.3,1894.2 L612.6,1895.1 L612.9,1896.1 L613.2,1897.0 L613.5,1898.0 L613.8,1898.9 L614.0,1899.9 L614.3,1900.9 L614.6,1901.8 L614.8,1902.8 L615.1,1903.8 L615.3,1904.7 L615.5,1905.7 L615.8,1906.7 L616.0,1907.6 L616.2,1908.6 L616.5,1909.6 L616.7,1910.6 L616.9,1911.5 L617.5,1914.5 L618.1,1917.4 L618.7,1920.4 L619.2,1923.3 L619.7,1926.3 L620.2,1929.4 L620.8,1932.3 L621.4,1935.2 L621.9,1938.1 L622.5,1941.0 L623.0,1944.0 L623.6,1946.9 L624.1,1949.9 L624.7,1952.8 L625.2,1955.8 L625.8,1958.7 L626.3,1961.6 L626.9,1964.6 L627.5,1967.5 L628.0,1970.5 L628.6,1973.4 L629.2,1976.4 L629.8,1979.3 L630.4,1982.2 L631.0,1985.2 L631.7,1988.1 L632.3,1991.0 L633.0,1994.0 L633.7,1996.9 L634.4,1999.8 L635.0,2002.7 L635.7,2005.6 L636.5,2008.5 L637.2,2011.5 L637.9,2014.4 L638.6,2017.3 L639.4,2020.2 L640.1,2023.1 L640.9,2026.0 L641.6,2028.9 L642.3,2031.8 L643.1,2034.7 L643.8,2037.6 L644.5,2040.5 L645.3,2043.4 L646.0,2046.4 L646.7,2049.3 L647.4,2052.2 L648.1,2055.1 L648.8,2058.0 L649.4,2060.9 L650.1,2063.9 L650.8,2066.8 L651.5,2069.7 L652.1,2072.6 L652.8,2075.6 L653.4,2078.5 L654.1,2081.4 L654.7,2084.4 L655.4,2087.3 L656.0,2090.2 L656.7,2093.1 L657.3,2096.1 L658.0,2099.0 L658.6,2101.9 L659.2,2104.9 L659.9,2107.8 L660.5,2110.7 L661.2,2113.7 L661.8,2116.6 L662.4,2119.5 L663.1,2122.5 L663.7,2125.4 L664.3,2128.3 L664.9,2131.3 L665.6,2134.2 L666.2,2137.1 L666.8,2140.1 L667.4,2143.0 L668.0,2145.9 L668.5,2148.9 L669.1,2151.8 L669.7,2154.8 L670.2,2157.7 L670.8,2160.7 L671.3,2163.6 L671.8,2166.6 L672.4,2169.5 L672.9,2172.5 L673.4,2175.4 L673.9,2178.4 L674.4,2181.4 L674.8,2184.3 L675.3,2187.3 L675.8,2190.2 L676.2,2193.2 L676.7,2196.2 L677.1,2199.1 L677.6,2202.1 L678.0,2205.1 L678.4,2208.0 L678.8,2211.0 L679.2,2214.0 L679.6,2217.0 L680.0,2219.9 L680.4,2222.9 L680.8,2225.9 L681.1,2228.9 L681.5,2231.8 L681.8,2234.8 L682.2,2237.8 L682.5,2240.8 L682.9,2243.8 L683.2,2246.7 L683.5,2249.7 L683.8,2252.7 L684.2,2255.7 L684.5,2258.7 L684.8,2261.7 L685.1,2264.6 L685.3,2267.6 L685.6,2270.6 L685.9,2273.6 L686.2,2276.6 L686.5,2279.6 L686.7,2282.6 L687.0,2285.6 L687.3,2288.5 L687.5,2291.5 L687.8,2294.5 L688.0,2297.5 L688.3,2300.5 L688.5,2303.5 L688.7,2306.5 L689.0,2309.5 L689.2,2312.5 L689.4,2315.5 L689.6,2318.4 L689.9,2321.4 L690.1,2324.4 L690.3,2327.4 L690.5,2330.4 L690.7,2333.4 L691.0,2336.4 L691.2,2339.4 L691.4,2342.4 L691.6,2345.4 L691.8,2348.4 L692.0,2351.4 L692.3,2354.3 L692.5,2357.3 L692.7,2360.3 L692.9,2363.3 L693.1,2366.3 L693.3,2369.3 L693.5,2372.3 L693.8,2375.3 L694.0,2378.3 L694.2,2381.3 L694.4,2384.3 L694.6,2387.3 L694.8,2390.3 L695.0,2393.3 L695.2,2396.2 L695.4,2399.2 L695.6,2402.2 L695.8,2405.2 L696.0,2408.2 L696.2,2411.2 L696.4,2414.2 L696.6,2417.2 L696.8,2420.2 L696.9,2423.2 L697.1,2426.2 L697.3,2429.2 L697.5,2432.2 L697.7,2435.2 L697.8,2438.2 L698.0,2441.2 L698.2,2444.2 L698.4,2447.1 L698.6,2450.1 L698.7,2453.1 L698.9,2456.1 L699.1,2459.1 L699.3,2462.1 L699.4,2465.1 L699.6,2468.1 L699.8,2471.1 L700.0,2474.1 L700.2,2477.1 L700.3,2480.1 L700.5,2483.1 L700.7,2486.1 L700.9,2489.1 L701.0,2492.1 L701.2,2495.1 L701.4,2498.1 L701.6,2501.1 L701.8,2504.0 L701.9,2507.0 L702.1,2510.0 L702.3,2513.0 L702.5,2516.0 L702.7,2519.0 L702.8,2522.0 L703.0,2525.0 L703.2,2528.0 L703.4,2531.0 L703.6,2534.0 L703.7,2537.0 L703.9,2540.0 L704.1,2543.0 L704.3,2546.0 L704.5,2549.0 L704.6,2552.0 L704.8,2555.0 L705.0,2557.9 L705.2,2560.9 L705.4,2563.9 L705.6,2566.9 L705.7,2569.9 L705.9,2572.9 L706.1,2575.9 L706.3,2578.9 L706.5,2581.9 L706.7,2584.9 L706.9,2587.9 L707.1,2590.9 L707.3,2593.9 L707.5,2596.9 L707.7,2599.9 L707.9,2602.9 L708.1,2605.8 L708.3,2608.8 L708.5,2611.8 L708.7,2614.8 L708.9,2617.8 L709.1,2620.8 L709.3,2623.8 L709.5,2626.8 L709.8,2629.8 L710.0,2632.8 L710.2,2635.8 L710.4,2638.8 L710.7,2641.8 L710.9,2644.7 L711.1,2647.7 L711.3,2650.7 L711.6,2653.7 L711.8,2656.7 L712.0,2659.7 L712.2,2662.7 L712.5,2665.7 L712.7,2668.7 L712.9,2671.7 L713.2,2674.7 L713.4,2677.6 L713.6,2680.6 L713.9,2683.6 L714.1,2686.6 L714.4,2689.6 L714.6,2692.6 L714.8,2695.6 L715.1,2698.6 L715.3,2701.6 L715.5,2704.6 L715.8,2707.6 L716.0,2710.5 L716.3,2713.5 L716.5,2716.5 L716.7,2719.5 L717.0,2722.5 L717.2,2725.5 L717.5,2728.5 L717.7,2731.5 L718.0,2734.5 L718.2,2737.5 L718.5,2740.4 L718.7,2743.4 L719.0,2746.4 L719.2,2749.4 L719.5,2752.4 L719.7,2755.4 L720.0,2758.4 L720.2,2761.4 L720.5,2764.4 L720.8,2767.3 L721.0,2770.3 L721.3,2773.3 L721.5,2776.3 L721.8,2779.3 L722.0,2782.3 L722.3,2785.3 L722.6,2788.3 L722.8,2791.3 L723.1,2794.3 L723.3,2797.2 L723.5,2800.2 L723.8,2803.2 L724.0,2806.2 L724.3,2809.2 L724.5,2812.2 L724.7,2815.2 L725.0,2818.2 L725.2,2821.2 L725.5,2824.2 L725.7,2827.1 L725.9,2830.1 L726.2,2833.1 L726.4,2836.1 L726.7,2839.1 L726.9,2842.1 L727.2,2845.1 L727.5,2848.1 L727.7,2851.1 L728.0,2854.0 L728.3,2857.0 L728.6,2860.0 L728.9,2863.0 L729.2,2866.0 L729.5,2869.0 L729.8,2872.0 L730.1,2874.9 L730.4,2877.9 L730.8,2880.9 L731.1,2883.9 L731.4,2886.9 L731.8,2889.8 L732.1,2892.8 L732.5,2895.8 L732.9,2898.8 L733.3,2901.7 L733.6,2904.7 L734.0,2907.7 L734.4,2910.7 L734.8,2913.6 L735.2,2916.6 L735.6,2919.6 L736.1,2922.6 L736.5,2925.5 L736.9,2928.5 L737.4,2931.5 L737.8,2934.4 L738.2,2937.4 L738.7,2940.4 L739.1,2943.3 L739.6,2946.3 L740.1,2949.3 L740.5,2952.2 L741.0,2955.2 L741.5,2958.1 L742.0,2961.1 L742.5,2964.0 L743.1,2967.0 L743.6,2969.9 L744.1,2972.9 L744.7,2975.8 L745.2,2978.8 L745.8,2981.7 L746.4,2984.7 L747.0,2987.6 L747.6,2990.6 L748.2,2993.5 L748.8,2996.4 L749.4,2999.4 L750.1,3002.3 L750.7,3005.2 L751.4,3008.2 L752.0,3011.1 L752.7,3014.0 L753.3,3016.9 L754.0,3019.8 L754.7,3022.8 L755.4,3025.7 L756.1,3028.6 L756.9,3031.5 L757.6,3034.4 L758.4,3037.3 L759.1,3040.2 L759.8,3043.1 L760.6,3046.0 L761.4,3048.9 L762.2,3051.8 L763.0,3054.7 L763.9,3057.5 L764.8,3060.4 L765.8,3063.2 L766.7,3066.0 L767.8,3068.9 L768.9,3071.6 L770.0,3074.4 L771.2,3077.1 L772.5,3079.9 L773.8,3082.5 L775.2,3085.2 L776.7,3087.8 L778.2,3090.3 L779.9,3092.7 L781.7,3095.1 L783.6,3097.5 L785.5,3099.7 L787.5,3101.8 L788.3,3102.5 L789.0,3103.1 L789.7,3103.7 L790.5,3104.3 L791.3,3104.8 L792.1,3105.4 L793.0,3105.8 L793.8,3106.3 L794.7,3106.8 L795.6,3107.2 L797.4,3108.0 L800.1,3109.1 L802.9,3110.1 L805.8,3111.0 L808.6,3111.8 L811.5,3112.3 L814.5,3112.8 L817.4,3113.1 L820.3,3113.3 L823.2,3113.6 L826.1,3113.8 L829.0,3114.1 L830.0,3114.2 L830.0,3114.2 L945.0,3114.2 L945.0,3114.2 L948.0,3114.0 L951.0,3113.8 L954.0,3113.7 L957.0,3113.5 L960.0,3113.4 L962.9,3113.2 L965.9,3112.9 L968.9,3112.6 L971.9,3112.3 L974.8,3111.9 L977.8,3111.4 L980.7,3110.8 L983.6,3110.1 L986.5,3109.3 L989.3,3108.4 L992.2,3107.5 L995.0,3106.5 L997.8,3105.4 L1000.6,3104.3 L1003.3,3103.2 L1006.1,3102.0 L1008.8,3100.8 L1011.6,3099.6 L1014.3,3098.3 L1017.0,3097.0 L1019.7,3095.7 L1022.4,3094.4 L1025.0,3093.0 L1027.7,3091.6 L1030.4,3090.3 L1033.0,3088.9 L1035.7,3087.5 L1038.4,3086.1 L1041.0,3084.8 L1043.7,3083.4 L1046.3,3082.0 L1049.0,3080.6 L1051.6,3079.2 L1054.3,3077.8 L1057.0,3076.4 L1059.6,3075.1 L1062.3,3073.8 L1065.0,3072.5 L1067.7,3071.2 L1070.5,3070.0 L1073.2,3068.8 L1076.0,3067.6 L1078.7,3066.4 L1081.5,3065.3 L1084.3,3064.3 L1087.1,3063.2 L1089.9,3062.2 L1092.8,3061.2 L1095.6,3060.3 L1098.5,3059.4 L1101.3,3058.6 L1104.2,3057.8 L1107.1,3057.1 L1110.1,3056.4 L1113.0,3055.9 L1115.9,3055.4 L1118.9,3055.0 L1121.9,3054.7 L1124.8,3054.5 L1127.8,3054.3 L1130.8,3054.3 L1133.8,3054.4 L1136.8,3054.6 L1139.7,3054.8 L1142.7,3055.2 L1145.7,3055.6 L1148.6,3056.1 L1151.5,3056.7 L1154.4,3057.4 L1157.3,3058.2 L1160.1,3059.2 L1162.9,3060.3 L1165.6,3061.5 L1168.3,3062.8 L1170.9,3064.1 L1173.6,3065.6 L1176.2,3067.0 L1178.8,3068.5 L1181.4,3069.9 L1184.1,3071.3 L1186.7,3072.8 L1189.3,3074.2 L1191.9,3075.7 L1194.6,3077.1 L1197.2,3078.6 L1199.8,3080.1 L1202.4,3081.5 L1205.0,3083.0 L1207.6,3084.5 L1210.1,3086.1 L1212.7,3087.6 L1215.2,3089.2 L1217.7,3090.9 L1220.2,3092.6 L1222.7,3094.3 L1225.1,3096.0 L1227.5,3097.8 L1229.9,3099.6 L1232.3,3101.4 L1234.6,3103.3 L1237.0,3105.1 L1239.4,3106.8 L1241.9,3108.4 L1244.5,3109.8 L1247.2,3111.0 L1250.0,3112.0 L1252.8,3112.7 L1255.8,3113.2 L1258.7,3113.6 L1261.7,3113.9 L1264.6,3114.2 L1265.0,3114.2 L1308.0,3114.2" fill="none" stroke="#ff0000" stroke-width="10.8" stroke-linecap="round" stroke-linejoin="round" clip-path="url(#clipb)"/>
<path d="M595.0,3114.2 L598.0,3113.9 L601.0,3113.6 L603.9,3113.4 L606.9,3113.1 L609.9,3112.8 L612.9,3112.5 L615.9,3112.2 L618.8,3111.8 L621.8,3111.4 L624.8,3110.9 L627.7,3110.3 L630.6,3109.8 L633.5,3109.1 L636.4,3108.4 L639.3,3107.5 L642.1,3106.6 L644.9,3105.5 L647.6,3104.3 L650.3,3102.9 L652.9,3101.5 L655.4,3099.9 L657.8,3098.2 L660.2,3096.4 L662.5,3094.5 L664.8,3092.5 L667.0,3090.5 L669.2,3088.5 L671.3,3086.4 L673.5,3084.3 L675.5,3082.2 L677.6,3080.0 L679.6,3077.8 L681.6,3075.6 L683.5,3073.3 L685.3,3070.9 L687.0,3068.5 L688.7,3066.0 L690.3,3063.5 L691.8,3060.9 L693.3,3058.3 L694.7,3055.7 L696.1,3053.0 L697.4,3050.3 L698.6,3047.6 L699.8,3044.9 L701.0,3042.1 L702.1,3039.3 L703.2,3036.5 L704.2,3033.7 L705.2,3030.9 L706.2,3028.1 L707.2,3025.2 L708.2,3022.4 L709.1,3019.6 L710.1,3016.7 L711.0,3013.9 L712.0,3011.0 L712.9,3008.2 L713.8,3005.3 L714.7,3002.5 L715.6,2999.6 L716.5,2996.7 L717.4,2993.9 L718.2,2991.0 L719.1,2988.1 L719.9,2985.3 L720.7,2982.4 L721.6,2979.5 L722.4,2976.6 L723.1,2973.7 L723.9,2970.8 L724.6,2967.9 L725.3,2965.0 L726.0,2962.1 L726.6,2959.1 L727.3,2956.2 L727.8,2953.3 L728.4,2950.3 L729.0,2947.4 L729.6,2944.4 L730.2,2941.5 L730.7,2938.6 L731.3,2935.6 L731.9,2932.7 L732.4,2929.7 L732.9,2926.8 L733.5,2923.8 L734.0,2920.9 L734.5,2917.9 L735.1,2915.0 L735.6,2912.0 L736.1,2909.0 L736.7,2906.1 L737.2,2903.1 L737.7,2900.2 L738.3,2897.2 L738.8,2894.3 L739.3,2891.3 L739.8,2888.4 L740.4,2885.4 L740.9,2882.5 L741.4,2879.5 L741.9,2876.6 L742.4,2873.6 L743.0,2870.7 L743.5,2867.7 L744.0,2864.7 L744.5,2861.8 L745.0,2858.8 L745.5,2855.9 L746.0,2852.9 L746.5,2849.9 L746.9,2847.0 L747.4,2844.0 L747.9,2841.1 L748.3,2838.1 L748.8,2835.1 L749.2,2832.2 L749.7,2829.2 L750.1,2826.2 L750.6,2823.3 L751.0,2820.3 L751.4,2817.3 L751.9,2814.4 L752.3,2811.4 L752.7,2808.4 L753.1,2805.4 L753.5,2802.5 L753.9,2799.5 L754.3,2796.5 L754.7,2793.6 L755.1,2790.6 L755.5,2787.6 L755.9,2784.6 L756.3,2781.7 L756.7,2778.7 L757.1,2775.7 L757.5,2772.7 L757.9,2769.8 L758.3,2766.8 L758.7,2763.8 L759.1,2760.8 L759.5,2757.9 L759.9,2754.9 L760.3,2751.9 L760.7,2748.9 L761.1,2746.0 L761.5,2743.0 L761.8,2740.0 L762.2,2737.1 L762.6,2734.1 L763.0,2731.1 L763.4,2728.1 L763.8,2725.2 L764.2,2722.2 L764.6,2719.2 L765.0,2716.2 L765.4,2713.3 L765.8,2710.3 L766.2,2707.3 L766.6,2704.3 L767.0,2701.4 L767.4,2698.4 L767.8,2695.4 L768.2,2692.5 L768.6,2689.5 L769.0,2686.5 L769.4,2683.5 L769.8,2680.6 L770.2,2677.6 L770.6,2674.6 L771.1,2671.6 L771.5,2668.7 L771.9,2665.7 L772.3,2662.7 L772.7,2659.8 L773.1,2656.8 L773.6,2653.8 L774.0,2650.8 L774.4,2647.9 L774.8,2644.9 L775.3,2641.9 L775.7,2639.0 L776.1,2636.0 L776.6,2633.0 L777.0,2630.1 L777.4,2627.1 L777.8,2624.1 L778.3,2621.2 L778.7,2618.2 L779.1,2615.2 L779.6,2612.3 L780.0,2609.3 L780.4,2606.3 L780.8,2603.3 L781.3,2600.4 L781.7,2597.4 L782.1,2594.4 L782.5,2591.5 L782.9,2588.5 L783.3,2585.5 L783.8,2582.5 L784.2,2579.6 L784.6,2576.6 L785.0,2573.6 L785.4,2570.7 L785.8,2567.7 L786.1,2564.7 L786.5,2561.7 L786.9,2558.8 L787.3,2555.8 L787.6,2552.8 L788.0,2549.8 L788.4,2546.8 L788.7,2543.9 L789.1,2540.9 L789.4,2537.9 L789.8,2534.9 L790.1,2532.0 L790.5,2529.0 L790.8,2526.0 L791.2,2523.0 L791.5,2520.0 L791.9,2517.1 L792.2,2514.1 L792.6,2511.1 L793.0,2508.1 L793.3,2505.1 L793.7,2502.2 L794.1,2499.2 L794.4,2496.2 L794.8,2493.2 L795.2,2490.3 L795.6,2487.3 L796.0,2484.3 L796.4,2481.3 L796.8,2478.4 L797.2,2475.4 L797.6,2472.4 L798.0,2469.4 L798.4,2466.5 L798.8,2463.5 L799.2,2460.5 L799.6,2457.6 L800.0,2454.6 L800.5,2451.6 L800.9,2448.6 L801.3,2445.7 L801.7,2442.7 L802.2,2439.7 L802.6,2436.8 L803.0,2433.8 L803.5,2430.8 L803.9,2427.9 L804.3,2424.9 L804.8,2421.9 L805.2,2419.0 L805.7,2416.0 L806.1,2413.0 L806.5,2410.1 L807.0,2407.1 L807.4,2404.1 L807.9,2401.2 L808.3,2398.2 L808.8,2395.2 L809.2,2392.3 L809.7,2389.3 L810.1,2386.3 L810.6,2383.4 L811.0,2380.4 L811.5,2377.4 L811.9,2374.5 L812.4,2371.5 L812.9,2368.5 L813.3,2365.6 L813.8,2362.6 L814.3,2359.7 L814.7,2356.7 L815.2,2353.7 L815.7,2350.8 L816.2,2347.8 L816.7,2344.8 L817.2,2341.9 L817.7,2338.9 L818.2,2336.0 L818.7,2333.0 L819.2,2330.1 L819.7,2327.1 L820.3,2324.2 L820.8,2321.2 L821.3,2318.3 L821.9,2315.3 L822.4,2312.4 L823.0,2309.4 L823.5,2306.5 L824.1,2303.5 L824.7,2300.6 L825.3,2297.6 L825.9,2294.7 L826.5,2291.8 L827.1,2288.8 L827.7,2285.9 L828.3,2282.9 L828.9,2280.0 L829.5,2277.1 L830.1,2274.1 L830.7,2271.2 L831.3,2268.3 L831.9,2265.3 L832.5,2262.4 L833.1,2259.4 L833.7,2256.5 L834.4,2253.6 L835.0,2250.6 L835.6,2247.7 L836.2,2244.8 L836.8,2241.8 L837.5,2238.9 L838.1,2236.0 L838.7,2233.0 L839.4,2230.1 L840.1,2227.2 L840.8,2224.3 L841.5,2221.4 L842.1,2218.4 L842.8,2215.5 L843.5,2212.6 L844.2,2209.7 L844.9,2206.8 L845.7,2203.9 L846.5,2201.0 L847.4,2198.1 L848.2,2195.3 L849.2,2192.4 L850.1,2189.6 L851.2,2186.8 L852.2,2184.0 L853.3,2181.2 L854.5,2178.4 L855.7,2175.7 L857.0,2173.0 L858.3,2170.3 L858.7,2169.4 L859.2,2168.5 L859.7,2167.6 L860.1,2166.8 L860.6,2165.9 L861.1,2165.0 L861.7,2164.2 L862.2,2163.3 L862.7,2162.5 L863.3,2161.7 L863.8,2160.9 L864.4,2160.0 L865.0,2159.3 L865.6,2158.5 L866.3,2157.7 L866.9,2157.0 L867.6,2156.3 L868.4,2155.7 L869.1,2155.1 L869.9,2154.6 L870.8,2154.1 L871.6,2153.7 L872.5,2153.4 L873.4,2153.2 L874.3,2153.1 L875.2,2153.0 L876.2,2153.1 L877.1,2153.3 L878.0,2153.5 L878.9,2153.9 L879.7,2154.3 L880.5,2154.8 L881.3,2155.4 L882.1,2156.0 L882.8,2156.6 L883.5,2157.3 L884.2,2158.0 L884.8,2158.8 L885.4,2159.6 L885.9,2160.4 L886.5,2161.2 L887.0,2162.1 L887.5,2162.9 L888.0,2163.8 L888.5,2164.6 L888.9,2165.5 L889.4,2166.4 L889.8,2167.3 L890.2,2168.2 L890.6,2169.1 L891.0,2170.1 L891.3,2171.0 L892.0,2172.9 L892.9,2175.7 L893.8,2178.5 L894.7,2181.4 L895.5,2184.3 L896.3,2187.2 L897.0,2190.1 L897.7,2193.0 L898.4,2195.9 L899.1,2198.8 L899.8,2201.8 L900.4,2204.7 L901.1,2207.6 L901.7,2210.6 L902.3,2213.5 L902.9,2216.4 L903.5,2219.4 L904.1,2222.3 L904.7,2225.2 L905.3,2228.2 L905.8,2231.1 L906.3,2234.1 L906.9,2237.0 L907.4,2240.0 L907.9,2242.9 L908.4,2245.9 L908.9,2248.9 L909.4,2251.8 L909.9,2254.8 L910.4,2257.7 L910.9,2260.7 L911.4,2263.7 L911.9,2266.6 L912.4,2269.6 L912.9,2272.5 L913.3,2275.5 L913.8,2278.4 L914.3,2281.4 L914.8,2284.4 L915.3,2287.3 L915.8,2290.3 L916.3,2293.2 L916.8,2296.2 L917.2,2299.2 L917.7,2302.1 L918.2,2305.1 L918.6,2308.1 L919.1,2311.0 L919.5,2314.0 L919.9,2317.0 L920.4,2319.9 L920.8,2322.9 L921.2,2325.9 L921.6,2328.8 L922.0,2331.8 L922.4,2334.8 L922.8,2337.8 L923.2,2340.7 L923.6,2343.7 L923.9,2346.7 L924.3,2349.7 L924.7,2352.6 L925.1,2355.6 L925.4,2358.6 L925.8,2361.6 L926.2,2364.5 L926.5,2367.5 L926.9,2370.5 L927.3,2373.5 L927.6,2376.5 L928.0,2379.4 L928.3,2382.4 L928.7,2385.4 L929.1,2388.4 L929.4,2391.4 L929.8,2394.3 L930.1,2397.3 L930.5,2400.3 L930.8,2403.3 L931.2,2406.3 L931.5,2409.2 L931.8,2412.2 L932.2,2415.2 L932.5,2418.2 L932.9,2421.2 L933.2,2424.1 L933.6,2427.1 L933.9,2430.1 L934.2,2433.1 L934.6,2436.1 L934.9,2439.0 L935.2,2442.0 L935.6,2445.0 L935.9,2448.0 L936.2,2451.0 L936.6,2453.9 L936.9,2456.9 L937.2,2459.9 L937.5,2462.9 L937.9,2465.9 L938.2,2468.9 L938.5,2471.8 L938.8,2474.8 L939.2,2477.8 L939.5,2480.8 L939.8,2483.8 L940.2,2486.8 L940.5,2489.7 L940.8,2492.7 L941.1,2495.7 L941.5,2498.7 L941.8,2501.7 L942.2,2504.6 L942.5,2507.6 L942.9,2510.6 L943.2,2513.6 L943.6,2516.6 L943.9,2519.5 L944.3,2522.5 L944.6,2525.5 L945.0,2528.5 L945.4,2531.4 L945.7,2534.4 L946.1,2537.4 L946.5,2540.4 L946.9,2543.4 L947.2,2546.3 L947.6,2549.3 L948.0,2552.3 L948.4,2555.3 L948.8,2558.2 L949.1,2561.2 L949.5,2564.2 L949.9,2567.2 L950.3,2570.1 L950.7,2573.1 L951.1,2576.1 L951.5,2579.1 L951.9,2582.0 L952.3,2585.0 L952.7,2588.0 L953.0,2591.0 L953.4,2593.9 L953.8,2596.9 L954.2,2599.9 L954.6,2602.8 L955.1,2605.8 L955.5,2608.8 L955.9,2611.8 L956.3,2614.7 L956.7,2617.7 L957.1,2620.7 L957.5,2623.6 L957.9,2626.6 L958.3,2629.6 L958.7,2632.6 L959.2,2635.5 L959.6,2638.5 L960.0,2641.5 L960.4,2644.4 L960.8,2647.4 L961.2,2650.4 L961.6,2653.4 L962.1,2656.3 L962.5,2659.3 L962.9,2662.3 L963.3,2665.2 L963.7,2668.2 L964.1,2671.2 L964.5,2674.2 L964.9,2677.1 L965.3,2680.1 L965.7,2683.1 L966.1,2686.1 L966.5,2689.0 L966.9,2692.0 L967.3,2695.0 L967.7,2697.9 L968.1,2700.9 L968.5,2703.9 L969.0,2706.9 L969.4,2709.8 L969.8,2712.8 L970.2,2715.8 L970.6,2718.8 L971.0,2721.7 L971.4,2724.7 L971.8,2727.7 L972.2,2730.6 L972.6,2733.6 L973.0,2736.6 L973.4,2739.6 L973.8,2742.5 L974.2,2745.5 L974.6,2748.5 L975.1,2751.4 L975.5,2754.4 L975.9,2757.4 L976.3,2760.4 L976.7,2763.3 L977.1,2766.3 L977.5,2769.3 L977.9,2772.3 L978.3,2775.2 L978.8,2778.2 L979.2,2781.2 L979.6,2784.1 L980.0,2787.1 L980.4,2790.1 L980.8,2793.0 L981.3,2796.0 L981.7,2799.0 L982.1,2802.0 L982.5,2804.9 L982.9,2807.9 L983.4,2810.9 L983.8,2813.8 L984.2,2816.8 L984.7,2819.8 L985.1,2822.7 L985.5,2825.7 L985.9,2828.7 L986.4,2831.7 L986.8,2834.6 L987.3,2837.6 L987.7,2840.6 L988.1,2843.5 L988.6,2846.5 L989.0,2849.5 L989.5,2852.4 L989.9,2855.4 L990.3,2858.4 L990.8,2861.3 L991.2,2864.3 L991.7,2867.3 L992.2,2870.2 L992.6,2873.2 L993.1,2876.1 L993.6,2879.1 L994.1,2882.1 L994.6,2885.0 L995.1,2888.0 L995.6,2890.9 L996.1,2893.9 L996.7,2896.8 L997.2,2899.8 L997.8,2902.7 L998.3,2905.7 L998.9,2908.6 L999.5,2911.6 L1000.1,2914.5 L1000.7,2917.4 L1001.3,2920.4 L1002.0,2923.3 L1002.6,2926.2 L1003.3,2929.2 L1003.9,2932.1 L1004.6,2935.0 L1005.3,2937.9 L1006.0,2940.8 L1006.7,2943.7 L1007.4,2946.7 L1008.2,2949.6 L1008.9,2952.5 L1009.7,2955.3 L1010.4,2958.3 L1011.1,2961.2 L1011.9,2964.1 L1012.7,2967.0 L1013.5,2969.8 L1014.4,2972.7 L1015.3,2975.6 L1016.2,2978.4 L1017.2,2981.2 L1018.3,2984.0 L1019.5,2986.8 L1020.6,2989.5 L1021.9,2992.2 L1023.1,2995.0 L1024.5,2997.7 L1025.8,3000.3 L1027.2,3003.0 L1028.5,3005.7 L1030.0,3008.3 L1031.4,3010.9 L1032.8,3013.5 L1034.3,3016.1 L1035.7,3018.8 L1037.0,3021.5 L1038.4,3024.2 L1039.8,3026.8 L1041.2,3029.5 L1042.6,3032.1 L1044.1,3034.7 L1045.5,3037.3 L1047.1,3039.9 L1048.7,3042.3 L1050.6,3044.6 L1051.2,3045.3 L1051.9,3046.0 L1052.6,3046.7 L1053.3,3047.4 L1054.1,3048.0 L1054.8,3048.6 L1055.6,3049.2 L1056.4,3049.8 L1057.2,3050.3 L1058.1,3050.9 L1058.9,3051.4 L1059.8,3051.9 L1060.6,3052.3 L1061.5,3052.8 L1062.4,3053.2 L1063.3,3053.6 L1064.2,3054.0 L1065.1,3054.3 L1066.1,3054.7 L1067.0,3055.0 L1068.0,3055.3 L1070.8,3056.0 L1073.8,3056.5 L1076.7,3056.9 L1079.7,3057.1 L1082.7,3057.3 L1085.7,3057.3 L1088.7,3057.3 L1091.6,3057.3 L1094.6,3057.2 L1097.6,3057.0 L1100.6,3056.8 L1103.6,3056.6 L1106.6,3056.5 L1109.6,3056.3 L1112.6,3056.1 L1115.6,3055.9 L1118.6,3055.7 L1121.6,3055.5 L1124.5,3055.4 L1127.5,3055.2 L1130.5,3055.1 L1133.5,3055.0 L1136.5,3055.0 L1139.5,3055.1 L1142.5,3055.2 L1145.5,3055.3 L1148.5,3055.6 L1151.4,3055.8 L1154.4,3056.2 L1157.4,3056.6 L1160.3,3057.0 L1163.3,3057.6 L1166.2,3058.1 L1169.1,3058.7 L1172.1,3059.4 L1175.0,3060.2 L1177.8,3060.9 L1180.7,3061.8 L1183.6,3062.7 L1186.4,3063.6 L1189.2,3064.6 L1192.1,3065.6 L1194.9,3066.7 L1197.7,3067.7 L1200.5,3068.8 L1203.3,3069.9 L1206.1,3070.9 L1208.9,3072.0 L1211.7,3073.1 L1214.5,3074.1 L1217.3,3075.2 L1220.1,3076.3 L1222.9,3077.4 L1225.6,3078.5 L1228.4,3079.6 L1231.2,3080.7 L1234.0,3081.8 L1236.8,3082.9 L1239.6,3084.0 L1242.4,3085.0 L1245.2,3086.1 L1248.0,3087.1 L1250.8,3088.2 L1253.6,3089.2 L1256.5,3090.3 L1259.3,3091.3 L1262.1,3092.2 L1265.0,3093.2 L1267.8,3094.1 L1270.7,3095.0 L1273.5,3095.9 L1276.4,3096.8 L1279.3,3097.7 L1282.1,3098.5 L1285.0,3099.3 L1287.9,3100.1 L1290.8,3100.9 L1293.7,3101.6 L1296.6,3102.4 L1299.5,3103.1 L1302.5,3103.7 L1305.4,3104.4 L1308.3,3105.1 L1311.2,3105.7 L1314.2,3106.3 L1317.1,3106.9 L1320.0,3107.4 L1323.0,3108.0 L1325.9,3108.5 L1328.9,3109.1 L1331.8,3109.6 L1334.7,3110.1 L1337.7,3110.6 L1340.6,3111.1 L1343.5,3111.6 L1346.5,3112.1 L1349.4,3112.5 L1352.3,3112.9 L1355.2,3113.3 L1358.1,3113.7 L1361.0,3114.1 L1362.0,3114.2" fill="none" stroke="#000" stroke-width="10.8" stroke-linecap="round" stroke-linejoin="round" clip-path="url(#clipb)"/>
<path d="M481.0,3114.2 L630.0,3114.2 L630.0,3114.2 L633.0,3113.9 L636.0,3113.6 L638.9,3113.3 L641.9,3113.0 L644.9,3112.7 L647.9,3112.3 L650.9,3112.0 L653.8,3111.6 L656.8,3111.2 L659.8,3110.7 L662.7,3110.2 L665.6,3109.7 L668.6,3109.1 L671.5,3108.4 L674.4,3107.6 L677.2,3106.8 L680.0,3105.8 L682.8,3104.7 L685.5,3103.5 L688.2,3102.3 L690.9,3100.9 L693.5,3099.5 L696.1,3098.0 L698.6,3096.4 L700.9,3094.6 L703.3,3092.8 L705.5,3090.8 L707.8,3088.9 L710.0,3086.8 L712.2,3084.8 L714.3,3082.7 L716.4,3080.6 L718.5,3078.5 L720.5,3076.3 L722.5,3074.0 L724.5,3071.8 L726.4,3069.5 L728.3,3067.1 L730.1,3064.8 L731.9,3062.4 L733.7,3060.0 L735.5,3057.6 L737.2,3055.1 L738.9,3052.7 L740.6,3050.2 L742.3,3047.7 L744.0,3045.2 L745.6,3042.7 L747.2,3040.2 L748.8,3037.7 L750.4,3035.1 L751.9,3032.5 L753.4,3030.0 L754.9,3027.4 L756.4,3024.8 L757.9,3022.1 L759.3,3019.5 L760.7,3016.9 L762.1,3014.2 L763.5,3011.6 L764.9,3008.9 L766.3,3006.2 L767.6,3003.6 L769.0,3000.9 L770.3,2998.2 L771.7,2995.5 L773.0,2992.8 L774.3,2990.1 L775.6,2987.4 L776.9,2984.7 L778.1,2982.0 L779.4,2979.3 L780.7,2976.6 L781.9,2973.8 L783.1,2971.1 L784.4,2968.4 L785.6,2965.6 L786.8,2962.9 L788.0,2960.1 L789.1,2957.4 L790.3,2954.6 L791.5,2951.8 L792.6,2949.1 L793.7,2946.3 L794.8,2943.5 L795.9,2940.7 L797.0,2937.9 L798.1,2935.1 L799.2,2932.3 L800.2,2929.5 L801.2,2926.7 L802.1,2923.8 L803.1,2921.0 L804.0,2918.1 L805.0,2915.3 L805.9,2912.5 L806.8,2909.6 L807.7,2906.7 L808.6,2903.9 L809.5,2901.0 L810.4,2898.1 L811.3,2895.3 L812.1,2892.4 L812.9,2889.5 L813.8,2886.6 L814.6,2883.8 L815.4,2880.9 L816.2,2878.0 L817.0,2875.1 L817.8,2872.2 L818.6,2869.3 L819.3,2866.4 L820.1,2863.5 L820.8,2860.6 L821.6,2857.7 L822.3,2854.8 L823.1,2851.9 L823.8,2849.0 L824.5,2846.0 L825.2,2843.1 L825.9,2840.2 L826.7,2837.3 L827.4,2834.4 L828.1,2831.5 L828.7,2828.6 L829.4,2825.6 L830.1,2822.7 L830.8,2819.8 L831.5,2816.9 L832.1,2813.9 L832.8,2811.0 L833.5,2808.1 L834.1,2805.2 L834.8,2802.2 L835.4,2799.3 L836.1,2796.4 L836.7,2793.4 L837.3,2790.5 L838.0,2787.6 L838.6,2784.6 L839.2,2781.7 L839.9,2778.8 L840.5,2775.8 L841.1,2772.9 L841.7,2770.0 L842.3,2767.0 L842.9,2764.1 L843.5,2761.2 L844.1,2758.2 L844.7,2755.3 L845.3,2752.3 L845.9,2749.4 L846.5,2746.5 L847.1,2743.5 L847.7,2740.6 L848.3,2737.6 L848.9,2734.7 L849.5,2731.8 L850.1,2728.8 L850.7,2725.9 L851.2,2722.9 L851.8,2720.0 L852.4,2717.0 L853.0,2714.1 L853.6,2711.2 L854.1,2708.2 L854.7,2705.3 L855.3,2702.3 L855.8,2699.4 L856.4,2696.4 L857.0,2693.5 L857.5,2690.5 L858.1,2687.6 L858.7,2684.6 L859.2,2681.7 L859.8,2678.8 L860.4,2675.8 L860.9,2672.9 L861.5,2669.9 L862.1,2667.0 L862.6,2664.0 L863.2,2661.1 L863.8,2658.1 L864.3,2655.2 L864.9,2652.2 L865.5,2649.3 L866.0,2646.3 L866.6,2643.4 L867.2,2640.5 L867.7,2637.5 L868.3,2634.6 L868.9,2631.6 L869.5,2628.7 L870.0,2625.7 L870.6,2622.8 L871.2,2619.8 L871.8,2616.9 L872.3,2614.0 L872.9,2611.0 L873.5,2608.1 L874.1,2605.1 L874.6,2602.2 L875.2,2599.2 L875.8,2596.3 L876.4,2593.3 L876.9,2590.4 L877.5,2587.5 L878.1,2584.5 L878.6,2581.6 L879.2,2578.6 L879.8,2575.7 L880.3,2572.7 L880.9,2569.8 L881.4,2566.8 L881.9,2563.9 L882.5,2560.9 L883.0,2558.0 L883.5,2555.0 L884.0,2552.1 L884.5,2549.1 L885.0,2546.1 L885.5,2543.2 L886.0,2540.2 L886.5,2537.3 L887.0,2534.3 L887.5,2531.3 L888.0,2528.4 L888.5,2525.4 L888.9,2522.5 L889.4,2519.5 L889.9,2516.5 L890.4,2513.6 L890.9,2510.6 L891.4,2507.7 L891.9,2504.7 L892.4,2501.8 L892.9,2498.8 L893.4,2495.8 L893.9,2492.9 L894.5,2489.9 L895.0,2487.0 L895.5,2484.0 L896.1,2481.1 L896.6,2478.1 L897.2,2475.2 L897.7,2472.2 L898.3,2469.3 L898.9,2466.4 L899.5,2463.4 L900.1,2460.5 L900.7,2457.5 L901.3,2454.6 L902.0,2451.7 L902.7,2448.8 L903.3,2445.8 L904.0,2442.9 L904.7,2440.0 L905.4,2437.1 L906.1,2434.2 L906.8,2431.2 L907.5,2428.3 L908.2,2425.4 L908.9,2422.5 L909.7,2419.6 L910.4,2416.7 L911.2,2413.8 L911.9,2410.9 L912.7,2408.0 L913.4,2405.1 L914.2,2402.2 L915.0,2399.3 L915.8,2396.4 L916.6,2393.5 L917.4,2390.6 L918.2,2387.7 L919.0,2384.9 L919.8,2382.0 L920.7,2379.1 L921.5,2376.2 L922.4,2373.4 L923.3,2370.5 L924.3,2367.7 L925.3,2364.8 L926.3,2362.0 L927.4,2359.2 L928.5,2356.5 L929.6,2353.7 L930.9,2351.0 L932.1,2348.3 L933.4,2345.6 L934.8,2342.9 L935.2,2342.0 L935.7,2341.1 L936.1,2340.2 L936.6,2339.3 L937.1,2338.4 L937.5,2337.6 L938.0,2336.7 L938.5,2335.8 L939.0,2334.9 L939.5,2334.1 L940.0,2333.2 L940.5,2332.4 L941.1,2331.6 L941.7,2330.8 L942.3,2330.1 L942.9,2329.4 L943.6,2328.8 L944.4,2328.2 L945.2,2327.7 L946.0,2327.2 L946.8,2326.9 L947.7,2326.6 L948.6,2326.4 L949.5,2326.3 L950.4,2326.4 L951.3,2326.5 L952.2,2326.8 L953.1,2327.1 L953.9,2327.5 L954.8,2327.9 L955.6,2328.5 L956.4,2329.0 L957.1,2329.6 L957.8,2330.3 L958.5,2331.0 L959.1,2331.7 L959.8,2332.5 L960.4,2333.3 L961.0,2334.0 L961.6,2334.8 L962.2,2335.6 L962.8,2336.4 L963.3,2337.3 L963.9,2338.1 L964.4,2338.9 L964.9,2339.8 L965.5,2340.6 L965.9,2341.5 L967.4,2344.1 L968.8,2346.8 L970.1,2349.5 L971.4,2352.2 L972.7,2354.9 L973.9,2357.6 L975.2,2360.3 L976.4,2363.1 L977.5,2365.8 L978.7,2368.6 L979.8,2371.4 L980.9,2374.2 L982.0,2377.0 L983.0,2379.8 L984.0,2382.6 L984.9,2385.4 L985.9,2388.3 L986.8,2391.1 L987.7,2394.0 L988.7,2396.8 L989.6,2399.7 L990.5,2402.5 L991.5,2405.4 L992.4,2408.2 L993.3,2411.1 L994.2,2413.9 L995.2,2416.8 L996.1,2419.7 L997.0,2422.5 L997.9,2425.4 L998.8,2428.2 L999.7,2431.1 L1000.6,2433.9 L1001.5,2436.8 L1002.4,2439.7 L1003.3,2442.5 L1004.2,2445.4 L1005.1,2448.3 L1005.9,2451.1 L1006.8,2454.0 L1007.6,2456.9 L1008.5,2459.8 L1009.3,2462.7 L1010.1,2465.5 L1010.9,2468.4 L1011.7,2471.3 L1012.5,2474.2 L1013.3,2477.1 L1014.1,2480.0 L1014.9,2482.9 L1015.6,2485.8 L1016.4,2488.7 L1017.1,2491.6 L1017.8,2494.5 L1018.5,2497.4 L1019.2,2500.3 L1019.9,2503.3 L1020.6,2506.2 L1021.3,2509.1 L1021.9,2512.0 L1022.6,2515.0 L1023.3,2517.9 L1023.9,2520.8 L1024.6,2523.7 L1025.2,2526.7 L1025.8,2529.6 L1026.5,2532.5 L1027.1,2535.5 L1027.8,2538.4 L1028.4,2541.3 L1029.0,2544.3 L1029.7,2547.2 L1030.3,2550.1 L1030.9,2553.1 L1031.5,2556.0 L1032.2,2558.9 L1032.8,2561.9 L1033.4,2564.8 L1034.1,2567.7 L1034.7,2570.7 L1035.3,2573.6 L1036.0,2576.5 L1036.6,2579.5 L1037.2,2582.4 L1037.9,2585.3 L1038.5,2588.2 L1039.1,2591.2 L1039.8,2594.1 L1040.4,2597.0 L1041.1,2600.0 L1041.8,2602.9 L1042.4,2605.8 L1043.1,2608.7 L1043.7,2611.7 L1044.4,2614.6 L1045.1,2617.5 L1045.7,2620.4 L1046.4,2623.4 L1047.1,2626.3 L1047.8,2629.2 L1048.4,2632.1 L1049.1,2635.1 L1049.8,2638.0 L1050.5,2640.9 L1051.2,2643.8 L1051.9,2646.7 L1052.5,2649.7 L1053.2,2652.6 L1053.9,2655.5 L1054.6,2658.4 L1055.3,2661.3 L1056.0,2664.2 L1056.7,2667.2 L1057.5,2670.1 L1058.2,2673.0 L1058.9,2675.9 L1059.6,2678.8 L1060.3,2681.7 L1061.1,2684.6 L1061.8,2687.5 L1062.5,2690.5 L1063.3,2693.4 L1064.0,2696.3 L1064.8,2699.2 L1065.5,2702.1 L1066.3,2705.0 L1067.0,2707.9 L1067.8,2710.8 L1068.6,2713.7 L1069.3,2716.6 L1070.1,2719.5 L1070.9,2722.4 L1071.6,2725.3 L1072.4,2728.2 L1073.2,2731.1 L1073.9,2734.0 L1074.7,2736.9 L1075.5,2739.8 L1076.3,2742.7 L1077.0,2745.6 L1077.8,2748.5 L1078.6,2751.4 L1079.4,2754.3 L1080.1,2757.2 L1080.9,2760.1 L1081.7,2763.0 L1082.5,2765.9 L1083.3,2768.7 L1084.1,2771.6 L1084.9,2774.5 L1085.7,2777.4 L1086.5,2780.3 L1087.3,2783.2 L1088.1,2786.1 L1088.9,2789.0 L1089.7,2791.9 L1090.5,2794.8 L1091.3,2797.7 L1092.1,2800.5 L1093.0,2803.4 L1093.8,2806.3 L1094.6,2809.2 L1095.4,2812.1 L1096.3,2815.0 L1097.1,2817.8 L1098.0,2820.7 L1098.8,2823.6 L1099.7,2826.5 L1100.6,2829.3 L1101.4,2832.2 L1102.3,2835.1 L1103.2,2837.9 L1104.1,2840.8 L1105.0,2843.7 L1105.9,2846.5 L1106.8,2849.4 L1107.7,2852.2 L1108.6,2855.1 L1109.5,2857.9 L1110.5,2860.8 L1111.4,2863.6 L1112.4,2866.5 L1113.4,2869.3 L1114.3,2872.2 L1115.3,2875.0 L1116.3,2877.8 L1117.3,2880.6 L1118.3,2883.5 L1119.4,2886.3 L1120.4,2889.1 L1121.4,2891.9 L1122.5,2894.7 L1123.5,2897.5 L1124.6,2900.3 L1125.7,2903.1 L1126.8,2905.9 L1127.9,2908.7 L1129.0,2911.5 L1130.1,2914.3 L1131.2,2917.1 L1132.4,2919.8 L1133.6,2922.6 L1134.8,2925.3 L1136.0,2928.1 L1137.2,2930.8 L1138.4,2933.6 L1139.6,2936.3 L1140.8,2939.0 L1142.1,2941.8 L1143.3,2944.5 L1144.6,2947.2 L1145.9,2949.9 L1147.2,2952.6 L1148.5,2955.3 L1149.8,2958.0 L1151.0,2960.7 L1152.4,2963.4 L1153.7,2966.1 L1155.1,2968.8 L1156.5,2971.4 L1157.9,2974.1 L1159.3,2976.7 L1160.8,2979.3 L1162.3,2981.9 L1163.9,2984.4 L1165.4,2987.0 L1167.0,2989.5 L1168.6,2992.0 L1170.3,2994.6 L1171.9,2997.0 L1173.6,2999.5 L1175.4,3002.0 L1177.1,3004.4 L1178.9,3006.8 L1180.7,3009.2 L1182.5,3011.6 L1184.4,3013.9 L1186.3,3016.2 L1188.2,3018.5 L1190.1,3020.8 L1192.1,3023.1 L1194.1,3025.3 L1196.2,3027.5 L1198.2,3029.6 L1200.3,3031.7 L1202.5,3033.8 L1204.6,3035.9 L1206.8,3038.0 L1209.1,3040.0 L1211.3,3041.9 L1213.6,3043.9 L1215.9,3045.8 L1218.2,3047.7 L1220.5,3049.6 L1222.9,3051.4 L1225.3,3053.2 L1227.7,3055.0 L1230.1,3056.7 L1232.6,3058.4 L1235.1,3060.1 L1237.6,3061.7 L1240.2,3063.3 L1242.7,3064.8 L1245.3,3066.2 L1248.0,3067.7 L1250.6,3069.1 L1253.3,3070.4 L1256.0,3071.8 L1258.6,3073.2 L1261.3,3074.5 L1264.0,3075.9 L1266.6,3077.3 L1269.3,3078.6 L1272.0,3080.0 L1274.7,3081.3 L1277.4,3082.6 L1280.0,3083.9 L1282.7,3085.3 L1285.5,3086.5 L1288.2,3087.8 L1290.9,3089.0 L1293.7,3090.2 L1296.4,3091.4 L1299.2,3092.6 L1301.9,3093.7 L1304.7,3094.8 L1307.5,3095.9 L1310.3,3097.0 L1313.1,3098.0 L1316.0,3099.0 L1318.8,3099.9 L1321.6,3100.8 L1324.5,3101.7 L1327.4,3102.6 L1330.2,3103.4 L1333.1,3104.2 L1336.0,3105.0 L1338.9,3105.8 L1341.8,3106.5 L1344.8,3107.1 L1347.7,3107.8 L1350.6,3108.4 L1353.6,3109.0 L1356.5,3109.5 L1359.4,3110.0 L1362.4,3110.5 L1365.4,3111.0 L1368.3,3111.4 L1371.3,3111.8 L1374.3,3112.1 L1377.2,3112.5 L1380.2,3112.7 L1383.2,3113.0 L1386.2,3113.2 L1389.1,3113.3 L1392.1,3113.5 L1395.1,3113.6 L1398.1,3113.8 L1401.0,3114.0 L1404.0,3114.1 L1405.0,3114.2 L1405.0,3114.2 L1914.0,3114.2" fill="none" stroke="#1e6fdc" stroke-width="10.8" stroke-linecap="round" stroke-linejoin="round" clip-path="url(#clipb)"/>
<text x="273.6" y="1542" font-size="85.5" text-anchor="middle" >0.01</text>
<text x="703.6" y="1542" font-size="85.5" text-anchor="middle" >0.1</text>
<text x="1133.7" y="1542" font-size="85.5" text-anchor="middle" >1</text>
<text x="1563.8" y="1542" font-size="85.5" text-anchor="middle" >10</text>
<text x="1993.8" y="1542" font-size="85.5" text-anchor="middle" >100</text>
<text x="282.2" y="3226.5" font-size="85.5" text-anchor="middle" >0.01</text>
<text x="853.2" y="3226.5" font-size="85.5" text-anchor="middle" >0.1</text>
<text x="1424.2" y="3226.5" font-size="85.5" text-anchor="middle" >1</text>
<text x="1995.2" y="3226.5" font-size="85.5" text-anchor="middle" >10</text>
<text x="228.5" y="1454.3" font-size="85.5" text-anchor="end" >0</text>
<text x="228.5" y="1022.7" font-size="85.5" text-anchor="end" >5</text>
<text x="228.5" y="591.1" font-size="85.5" text-anchor="end" >10</text>
<text x="228.5" y="159.5" font-size="85.5" text-anchor="end" >15</text>
<text x="237" y="3140.6" font-size="85.5" text-anchor="end" >0</text>
<text x="237" y="2811.8" font-size="85.5" text-anchor="end" >5</text>
<text x="237" y="2482.9" font-size="85.5" text-anchor="end" >10</text>
<text x="237" y="2154.1" font-size="85.5" text-anchor="end" >15</text>
<text x="237" y="1825.2" font-size="85.5" text-anchor="end" >20</text>
<text x="1135.5" y="1641" font-size="84" text-anchor="middle" >Particle size <tspan font-weight="normal" font-size="73">(</tspan>μm<tspan font-weight="normal" font-size="73">)</tspan></text>
<text x="1254.5" y="3327" font-size="84" text-anchor="middle" >Particle size <tspan font-weight="normal" font-size="73">(</tspan>μm<tspan font-weight="normal" font-size="73">)</tspan></text>
<text transform="translate(98.8,689.5) rotate(-90)" font-size="83" text-anchor="middle">Volume fraction (%)</text>
<text transform="translate(116.5,2385.5) rotate(-90)" font-size="84" text-anchor="middle">Volume fraction (%)</text>
<text x="284" y="125" font-size="118" text-anchor="start" >a</text>
<text x="296.5" y="1829.5" font-size="113" text-anchor="start" >b</text>
<text x="1222" y="111" font-size="72" text-anchor="start" >Dispersant</text>
<text x="1648" y="108" font-size="72" text-anchor="start" ><tspan font-style="italic">D</tspan><tspan font-style="italic" font-size="52" dy="20">90</tspan><tspan dy="-20" dx="5"> (nm)/</tspan><tspan font-style="italic">I</tspan></text>
<path d="M1231.5,195.6 H1376.5" stroke="#000" stroke-width="10.5" stroke-linecap="round" fill="none"/>
<path d="M1231.5,285.3 H1376.5" stroke="#ff0000" stroke-width="10.5" stroke-linecap="round" fill="none"/>
<path d="M1231.5,375.1 H1376.5" stroke="#0868ac" stroke-width="10.5" stroke-linecap="round" fill="none"/>
<text x="1393" y="216" font-size="72" text-anchor="start" >None</text>
<text x="1395.5" y="304.5" font-size="72" text-anchor="start" letter-spacing="-0.6">PAI</text>
<text x="1395.5" y="395.8" font-size="72" text-anchor="start" letter-spacing="-0.6">PAIN2</text>
<text x="1652.5" y="220" font-size="72" text-anchor="start" >1887/6.55</text>
<text x="1653" y="309.8" font-size="72" text-anchor="start" >293/1.12</text>
<text x="1653" y="400" font-size="72" text-anchor="start" >83/0.42</text>
<text x="1236" y="1809.5" font-size="72" text-anchor="start" >Dispersant</text>
<text x="1657.5" y="1809.5" font-size="72" text-anchor="start" ><tspan font-style="italic">D</tspan><tspan font-style="italic" font-size="52" dy="20">90</tspan><tspan dy="-20" dx="5"> (nm)/</tspan><tspan font-style="italic">I</tspan></text>
<path d="M1240.5,1885.8 H1400.5" stroke="#000" stroke-width="10.5" stroke-linecap="round" fill="none"/>
<path d="M1240.5,1983.6 H1400.5" stroke="#ff0000" stroke-width="10.5" stroke-linecap="round" fill="none"/>
<path d="M1240.5,2082.2 H1400.5" stroke="#1e6fdc" stroke-width="10.5" stroke-linecap="round" fill="none"/>
<text x="1418.5" y="1909.4" font-size="72" text-anchor="start" letter-spacing="-0.6">PAIN1</text>
<text x="1418.5" y="2007.2" font-size="72" text-anchor="start" letter-spacing="-0.6">PAIN2</text>
<text x="1418.5" y="2106.1" font-size="72" text-anchor="start" letter-spacing="-0.6">PAIN3</text>
<text x="1658" y="1920.6" font-size="72" text-anchor="start" >159/0.44</text>
<text x="1660" y="2010" font-size="72" text-anchor="start" >83/0.42</text>
<text x="1658" y="2099.7" font-size="72" text-anchor="start" >256/0.57</text>
<text x="1195" y="2433.4" font-size="72" text-anchor="start" >Pigment content: 20 wt%</text>
<text x="1195" y="2521.8" font-size="72" text-anchor="start" >Addition: 10 wt%</text>
<text x="1193" y="2610.2" font-size="72" text-anchor="start" letter-spacing="-0.15">Grinding time: 480 min</text>
</svg></body></html>
